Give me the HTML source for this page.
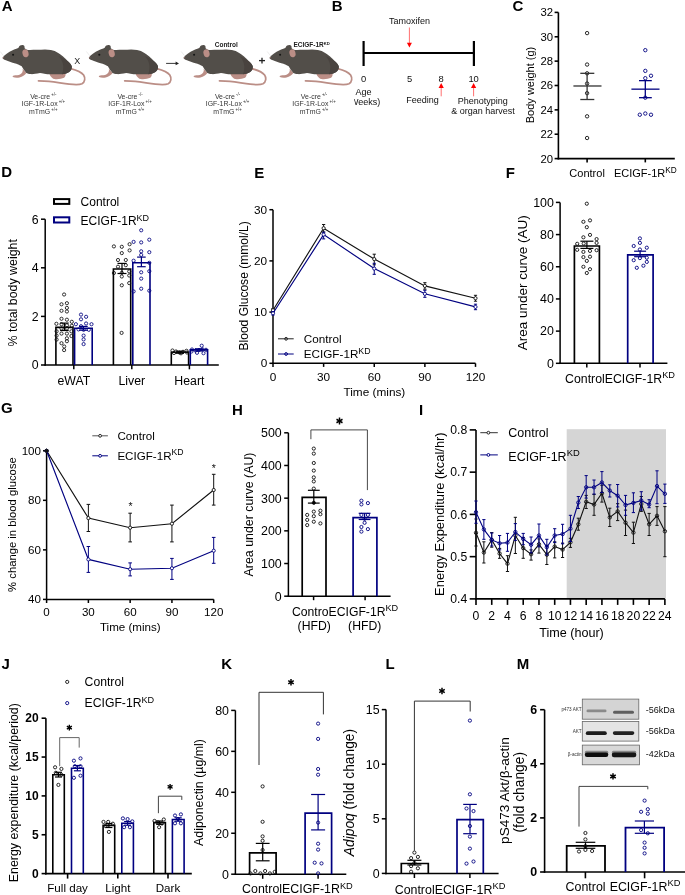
<!DOCTYPE html>
<html><head><meta charset="utf-8"><title>Figure</title>
<style>
html,body{margin:0;padding:0;background:#fff;}
body{width:685px;height:895px;overflow:hidden;}
svg{display:block;font-family:"Liberation Sans", sans-serif;will-change:transform;}
</style></head><body>
<svg width="685" height="895" viewBox="0 0 685 895">

<text x="1.75" y="10.90" font-size="15" font-weight="bold">A</text>
<g transform="translate(0,0)">
<path d="M 70.6 68.6 C 76 70, 81 71.5, 83.6 75 C 85.5 78, 85 82, 82 83.8 C 79.5 85, 75 84.9, 69.2 84.2 C 62 83.3, 56 82.2, 49 81.4 C 45 81, 42 80.9, 38.5 80.8" fill="none" stroke="#bb8e86" stroke-width="1.75" stroke-linecap="round"/>
<path d="M 49.3 73.6 C 49.9 75.4, 50.5 76.5, 51.5 77.3 C 52.5 78.6, 54 79.3, 56 79.2 C 59 79.3, 62 78.8, 64.1 77.8 C 65.5 76.8, 65.8 75, 65.5 72.6 Z" fill="#bb8e86" stroke="none" stroke-width="1" />
<path d="M 22.6 68.8 C 23.4 71.3, 22 73.5, 20 74.6 C 18.5 75.3, 16 75.4, 14 75.4 C 12.8 75.5, 12.3 76.3, 12.9 76.9 C 14.5 77.7, 17 77.8, 19.5 77.4 C 22.5 76.7, 24.8 75, 26.4 72.9 Z" fill="#bb8e86" stroke="none" stroke-width="1" />
<path d="M 2.9 57.3 C 4.5 55, 8 52, 13.1 49.9 C 15.5 49, 17.5 48.4, 18.7 47.5 C 19.2 45.8, 21 45, 22.5 45.1 C 24 45.2, 24.8 46, 24.6 48.2 C 26 49.6, 28 50.2, 30 50.1 C 34 49.9, 40 49.8, 45 49.6 C 47 49.6, 49 49.8, 50.9 50.1 C 53.5 50.6, 56 51.6, 58.2 53 C 61 54.8, 63 56.5, 64.1 57.4 C 66.5 59.6, 68.2 61.3, 69.2 62.5 C 70.5 64, 71.6 65.3, 71.8 66.6 C 72 68, 71.6 69.3, 70.8 70.4 C 70 71.3, 69.5 71.8, 69.2 72 C 67 73.5, 64 74.2, 61.9 74.3 L 50.9 74.3 C 46 74.3, 42 73, 40 72.9 C 36 73.5, 33 74.3, 31 74.1 C 29 73.8, 27 73.3, 26.3 72.9 C 24.5 71, 23 68.5, 21.7 66.3 C 19.5 64.8, 18 64.2, 16.4 63.7 C 13.5 62.9, 11.5 62.2, 9.9 61.7 C 7 60.8, 4.5 60, 3.3 59.1 C 2.7 58.6, 2.6 57.9, 2.9 57.3 Z" fill="#524e49" stroke="none" stroke-width="1" />
<path d="M 58.5 56.2 C 63 60, 64.8 67, 62 74.3 C 65 74, 67.5 73.2, 69.2 72 C 70.5 71, 71.8 69.5, 71.8 66.6 C 71.5 65, 70 63.5, 69.2 62.5 C 66 59.4, 62 57.3, 58.5 56.2 Z" fill="#49433f" stroke="none" stroke-width="1" />
<ellipse cx="25.5" cy="53.3" rx="3.0" ry="4.0" transform="rotate(-15 25.5 53.3)" fill="#bb8e86"/>
<circle cx="3.4" cy="57.8" r="0.8" fill="#8a6a66"/>
<circle cx="13.10" cy="54.80" r="1.05" fill="#151515" stroke="none" stroke-width="0"/>
<line x1="0.20" y1="51.50" x2="3.60" y2="55.80" stroke="#d8d8d8" stroke-width="0.5" />
</g>
<g transform="translate(86.2,0)">
<path d="M 70.6 68.6 C 76 70, 81 71.5, 83.6 75 C 85.5 78, 85 82, 82 83.8 C 79.5 85, 75 84.9, 69.2 84.2 C 62 83.3, 56 82.2, 49 81.4 C 45 81, 42 80.9, 38.5 80.8" fill="none" stroke="#bb8e86" stroke-width="1.75" stroke-linecap="round"/>
<path d="M 49.3 73.6 C 49.9 75.4, 50.5 76.5, 51.5 77.3 C 52.5 78.6, 54 79.3, 56 79.2 C 59 79.3, 62 78.8, 64.1 77.8 C 65.5 76.8, 65.8 75, 65.5 72.6 Z" fill="#bb8e86" stroke="none" stroke-width="1" />
<path d="M 22.6 68.8 C 23.4 71.3, 22 73.5, 20 74.6 C 18.5 75.3, 16 75.4, 14 75.4 C 12.8 75.5, 12.3 76.3, 12.9 76.9 C 14.5 77.7, 17 77.8, 19.5 77.4 C 22.5 76.7, 24.8 75, 26.4 72.9 Z" fill="#bb8e86" stroke="none" stroke-width="1" />
<path d="M 2.9 57.3 C 4.5 55, 8 52, 13.1 49.9 C 15.5 49, 17.5 48.4, 18.7 47.5 C 19.2 45.8, 21 45, 22.5 45.1 C 24 45.2, 24.8 46, 24.6 48.2 C 26 49.6, 28 50.2, 30 50.1 C 34 49.9, 40 49.8, 45 49.6 C 47 49.6, 49 49.8, 50.9 50.1 C 53.5 50.6, 56 51.6, 58.2 53 C 61 54.8, 63 56.5, 64.1 57.4 C 66.5 59.6, 68.2 61.3, 69.2 62.5 C 70.5 64, 71.6 65.3, 71.8 66.6 C 72 68, 71.6 69.3, 70.8 70.4 C 70 71.3, 69.5 71.8, 69.2 72 C 67 73.5, 64 74.2, 61.9 74.3 L 50.9 74.3 C 46 74.3, 42 73, 40 72.9 C 36 73.5, 33 74.3, 31 74.1 C 29 73.8, 27 73.3, 26.3 72.9 C 24.5 71, 23 68.5, 21.7 66.3 C 19.5 64.8, 18 64.2, 16.4 63.7 C 13.5 62.9, 11.5 62.2, 9.9 61.7 C 7 60.8, 4.5 60, 3.3 59.1 C 2.7 58.6, 2.6 57.9, 2.9 57.3 Z" fill="#524e49" stroke="none" stroke-width="1" />
<path d="M 58.5 56.2 C 63 60, 64.8 67, 62 74.3 C 65 74, 67.5 73.2, 69.2 72 C 70.5 71, 71.8 69.5, 71.8 66.6 C 71.5 65, 70 63.5, 69.2 62.5 C 66 59.4, 62 57.3, 58.5 56.2 Z" fill="#49433f" stroke="none" stroke-width="1" />
<ellipse cx="25.5" cy="53.3" rx="3.0" ry="4.0" transform="rotate(-15 25.5 53.3)" fill="#bb8e86"/>
<circle cx="3.4" cy="57.8" r="0.8" fill="#8a6a66"/>
<circle cx="13.10" cy="54.80" r="1.05" fill="#151515" stroke="none" stroke-width="0"/>
<line x1="0.20" y1="51.50" x2="3.60" y2="55.80" stroke="#d8d8d8" stroke-width="0.5" />
</g>
<g transform="translate(181,0)">
<path d="M 70.6 68.6 C 76 70, 81 71.5, 83.6 75 C 85.5 78, 85 82, 82 83.8 C 79.5 85, 75 84.9, 69.2 84.2 C 62 83.3, 56 82.2, 49 81.4 C 45 81, 42 80.9, 38.5 80.8" fill="none" stroke="#bb8e86" stroke-width="1.75" stroke-linecap="round"/>
<path d="M 49.3 73.6 C 49.9 75.4, 50.5 76.5, 51.5 77.3 C 52.5 78.6, 54 79.3, 56 79.2 C 59 79.3, 62 78.8, 64.1 77.8 C 65.5 76.8, 65.8 75, 65.5 72.6 Z" fill="#bb8e86" stroke="none" stroke-width="1" />
<path d="M 22.6 68.8 C 23.4 71.3, 22 73.5, 20 74.6 C 18.5 75.3, 16 75.4, 14 75.4 C 12.8 75.5, 12.3 76.3, 12.9 76.9 C 14.5 77.7, 17 77.8, 19.5 77.4 C 22.5 76.7, 24.8 75, 26.4 72.9 Z" fill="#bb8e86" stroke="none" stroke-width="1" />
<path d="M 2.9 57.3 C 4.5 55, 8 52, 13.1 49.9 C 15.5 49, 17.5 48.4, 18.7 47.5 C 19.2 45.8, 21 45, 22.5 45.1 C 24 45.2, 24.8 46, 24.6 48.2 C 26 49.6, 28 50.2, 30 50.1 C 34 49.9, 40 49.8, 45 49.6 C 47 49.6, 49 49.8, 50.9 50.1 C 53.5 50.6, 56 51.6, 58.2 53 C 61 54.8, 63 56.5, 64.1 57.4 C 66.5 59.6, 68.2 61.3, 69.2 62.5 C 70.5 64, 71.6 65.3, 71.8 66.6 C 72 68, 71.6 69.3, 70.8 70.4 C 70 71.3, 69.5 71.8, 69.2 72 C 67 73.5, 64 74.2, 61.9 74.3 L 50.9 74.3 C 46 74.3, 42 73, 40 72.9 C 36 73.5, 33 74.3, 31 74.1 C 29 73.8, 27 73.3, 26.3 72.9 C 24.5 71, 23 68.5, 21.7 66.3 C 19.5 64.8, 18 64.2, 16.4 63.7 C 13.5 62.9, 11.5 62.2, 9.9 61.7 C 7 60.8, 4.5 60, 3.3 59.1 C 2.7 58.6, 2.6 57.9, 2.9 57.3 Z" fill="#524e49" stroke="none" stroke-width="1" />
<path d="M 58.5 56.2 C 63 60, 64.8 67, 62 74.3 C 65 74, 67.5 73.2, 69.2 72 C 70.5 71, 71.8 69.5, 71.8 66.6 C 71.5 65, 70 63.5, 69.2 62.5 C 66 59.4, 62 57.3, 58.5 56.2 Z" fill="#49433f" stroke="none" stroke-width="1" />
<ellipse cx="25.5" cy="53.3" rx="3.0" ry="4.0" transform="rotate(-15 25.5 53.3)" fill="#bb8e86"/>
<circle cx="3.4" cy="57.8" r="0.8" fill="#8a6a66"/>
<circle cx="13.10" cy="54.80" r="1.05" fill="#151515" stroke="none" stroke-width="0"/>
<line x1="0.20" y1="51.50" x2="3.60" y2="55.80" stroke="#d8d8d8" stroke-width="0.5" />
</g>
<g transform="translate(267,0)">
<path d="M 70.6 68.6 C 76 70, 81 71.5, 83.6 75 C 85.5 78, 85 82, 82 83.8 C 79.5 85, 75 84.9, 69.2 84.2 C 62 83.3, 56 82.2, 49 81.4 C 45 81, 42 80.9, 38.5 80.8" fill="none" stroke="#bb8e86" stroke-width="1.75" stroke-linecap="round"/>
<path d="M 49.3 73.6 C 49.9 75.4, 50.5 76.5, 51.5 77.3 C 52.5 78.6, 54 79.3, 56 79.2 C 59 79.3, 62 78.8, 64.1 77.8 C 65.5 76.8, 65.8 75, 65.5 72.6 Z" fill="#bb8e86" stroke="none" stroke-width="1" />
<path d="M 22.6 68.8 C 23.4 71.3, 22 73.5, 20 74.6 C 18.5 75.3, 16 75.4, 14 75.4 C 12.8 75.5, 12.3 76.3, 12.9 76.9 C 14.5 77.7, 17 77.8, 19.5 77.4 C 22.5 76.7, 24.8 75, 26.4 72.9 Z" fill="#bb8e86" stroke="none" stroke-width="1" />
<path d="M 2.9 57.3 C 4.5 55, 8 52, 13.1 49.9 C 15.5 49, 17.5 48.4, 18.7 47.5 C 19.2 45.8, 21 45, 22.5 45.1 C 24 45.2, 24.8 46, 24.6 48.2 C 26 49.6, 28 50.2, 30 50.1 C 34 49.9, 40 49.8, 45 49.6 C 47 49.6, 49 49.8, 50.9 50.1 C 53.5 50.6, 56 51.6, 58.2 53 C 61 54.8, 63 56.5, 64.1 57.4 C 66.5 59.6, 68.2 61.3, 69.2 62.5 C 70.5 64, 71.6 65.3, 71.8 66.6 C 72 68, 71.6 69.3, 70.8 70.4 C 70 71.3, 69.5 71.8, 69.2 72 C 67 73.5, 64 74.2, 61.9 74.3 L 50.9 74.3 C 46 74.3, 42 73, 40 72.9 C 36 73.5, 33 74.3, 31 74.1 C 29 73.8, 27 73.3, 26.3 72.9 C 24.5 71, 23 68.5, 21.7 66.3 C 19.5 64.8, 18 64.2, 16.4 63.7 C 13.5 62.9, 11.5 62.2, 9.9 61.7 C 7 60.8, 4.5 60, 3.3 59.1 C 2.7 58.6, 2.6 57.9, 2.9 57.3 Z" fill="#524e49" stroke="none" stroke-width="1" />
<path d="M 58.5 56.2 C 63 60, 64.8 67, 62 74.3 C 65 74, 67.5 73.2, 69.2 72 C 70.5 71, 71.8 69.5, 71.8 66.6 C 71.5 65, 70 63.5, 69.2 62.5 C 66 59.4, 62 57.3, 58.5 56.2 Z" fill="#49433f" stroke="none" stroke-width="1" />
<ellipse cx="25.5" cy="53.3" rx="3.0" ry="4.0" transform="rotate(-15 25.5 53.3)" fill="#bb8e86"/>
<circle cx="3.4" cy="57.8" r="0.8" fill="#8a6a66"/>
<circle cx="13.10" cy="54.80" r="1.05" fill="#151515" stroke="none" stroke-width="0"/>
<line x1="0.20" y1="51.50" x2="3.60" y2="55.80" stroke="#d8d8d8" stroke-width="0.5" />
</g>
<text x="77.20" y="64.25" font-size="9.0" text-anchor="middle" fill="#222" >X</text>
<line x1="166.10" y1="63.40" x2="176.50" y2="63.40" stroke="#222" stroke-width="0.9" />
<path d="M 179 63.4 L 175.6 61.6 L 175.6 65.2 Z" fill="#222" stroke="none" stroke-width="1" />
<line x1="259.00" y1="60.60" x2="265.00" y2="60.60" stroke="#222" stroke-width="1.3" />
<line x1="262.00" y1="57.70" x2="262.00" y2="63.50" stroke="#222" stroke-width="1.3" />
<text x="226.30" y="47.07" font-size="6.5" text-anchor="middle" font-weight="bold" fill="#222" >Control</text>
<text x="311.6" y="47.1" font-size="6.5" text-anchor="middle" font-weight="bold" fill="#222">ECIGF-1R<tspan font-size="4.2" dy="-2.5">KD</tspan></text>
<g transform="translate(43.3,0) scale(0.9,1)">
<text x="0" y="98.7" font-size="7.7" text-anchor="middle" fill="#333">Ve-cre<tspan font-size="4.8" dy="-2.8"> +/-</tspan></text>
<text x="0" y="106.2" font-size="7.7" text-anchor="middle" fill="#333">IGF-1R-Lox<tspan font-size="4.8" dy="-2.8"> +/+</tspan></text>
<text x="0" y="113.9" font-size="7.7" text-anchor="middle" fill="#333">mTmG<tspan font-size="4.8" dy="-2.8"> +/+</tspan></text>
</g>
<g transform="translate(130,0) scale(0.9,1)">
<text x="0" y="98.7" font-size="7.7" text-anchor="middle" fill="#333">Ve-cre<tspan font-size="4.8" dy="-2.8"> -/-</tspan></text>
<text x="0" y="106.2" font-size="7.7" text-anchor="middle" fill="#333">IGF-1R-Lox<tspan font-size="4.8" dy="-2.8"> +/+</tspan></text>
<text x="0" y="113.9" font-size="7.7" text-anchor="middle" fill="#333">mTmG<tspan font-size="4.8" dy="-2.8"> +/+</tspan></text>
</g>
<g transform="translate(227.5,0) scale(0.9,1)">
<text x="0" y="98.7" font-size="7.7" text-anchor="middle" fill="#333">Ve-cre<tspan font-size="4.8" dy="-2.8"> -/-</tspan></text>
<text x="0" y="106.2" font-size="7.7" text-anchor="middle" fill="#333">IGF-1R-Lox<tspan font-size="4.8" dy="-2.8"> +/+</tspan></text>
<text x="0" y="113.9" font-size="7.7" text-anchor="middle" fill="#333">mTmG<tspan font-size="4.8" dy="-2.8"> +/+</tspan></text>
</g>
<g transform="translate(314,0) scale(0.9,1)">
<text x="0" y="98.7" font-size="7.7" text-anchor="middle" fill="#333">Ve-cre<tspan font-size="4.8" dy="-2.8"> +/-</tspan></text>
<text x="0" y="106.2" font-size="7.7" text-anchor="middle" fill="#333">IGF-1R-Lox<tspan font-size="4.8" dy="-2.8"> +/+</tspan></text>
<text x="0" y="113.9" font-size="7.7" text-anchor="middle" fill="#333">mTmG<tspan font-size="4.8" dy="-2.8"> +/+</tspan></text>
</g>
<text x="331.80" y="10.90" font-size="15" font-weight="bold">B</text>
<line x1="363.60" y1="41.00" x2="363.60" y2="66.00" stroke="#000" stroke-width="2.2" />
<line x1="473.90" y1="41.00" x2="473.90" y2="66.00" stroke="#000" stroke-width="2.2" />
<line x1="363.60" y1="53.00" x2="473.90" y2="53.00" stroke="#000" stroke-width="2.2" />
<text x="363.60" y="81.89" font-size="9.4" text-anchor="middle" fill="#111" >0</text>
<text x="409.50" y="81.89" font-size="9.4" text-anchor="middle" fill="#111" >5</text>
<text x="441.20" y="81.89" font-size="9.4" text-anchor="middle" fill="#111" >8</text>
<text x="473.60" y="81.89" font-size="9.4" text-anchor="middle" fill="#111" >10</text>
<text x="409.60" y="24.35" font-size="9" text-anchor="middle" fill="#111" >Tamoxifen</text>
<line x1="409.40" y1="27.50" x2="409.40" y2="43.00" stroke="#f22" stroke-width="0.65" />
<path d="M 409.4 47.6 L 406.9 42.7 L 411.9 42.7 Z" fill="#f00" stroke="none" stroke-width="1" />
<line x1="441.20" y1="96.30" x2="441.20" y2="87.50" stroke="#f22" stroke-width="0.65" />
<path d="M 441.2 82.9 L 438.59999999999997 87.9 L 443.8 87.9 Z" fill="#f00" stroke="none" stroke-width="1" />
<line x1="473.60" y1="96.30" x2="473.60" y2="87.50" stroke="#f22" stroke-width="0.65" />
<path d="M 473.6 82.9 L 471.0 87.9 L 476.20000000000005 87.9 Z" fill="#f00" stroke="none" stroke-width="1" />
<text x="363.60" y="95.15" font-size="9" text-anchor="middle" fill="#111" >Age</text>
<clipPath id="wk"><rect x="354.2" y="90" width="30" height="20"/></clipPath>
<text x="363.60" y="105.35" font-size="9" text-anchor="middle" fill="#111" clip-path="url(#wk)">(Weeks)</text>
<text x="422.50" y="103.35" font-size="9" text-anchor="middle" fill="#111" >Feeding</text>
<text x="482.80" y="103.85" font-size="9" text-anchor="middle" fill="#111" >Phenotyping</text>
<text x="483.00" y="114.35" font-size="9" text-anchor="middle" fill="#111" >&amp; organ harvest</text>
<text x="512.60" y="10.90" font-size="15" font-weight="bold">C</text>
<line x1="558.40" y1="12.40" x2="558.40" y2="159.40" stroke="#000" stroke-width="1.6" />
<line x1="554.60" y1="158.60" x2="558.40" y2="158.60" stroke="#000" stroke-width="1.6" />
<text x="553.00" y="162.56" font-size="11.3" text-anchor="end" fill="#000" >20</text>
<line x1="554.60" y1="134.23" x2="558.40" y2="134.23" stroke="#000" stroke-width="1.6" />
<text x="553.00" y="138.19" font-size="11.3" text-anchor="end" fill="#000" >22</text>
<line x1="554.60" y1="109.87" x2="558.40" y2="109.87" stroke="#000" stroke-width="1.6" />
<text x="553.00" y="113.82" font-size="11.3" text-anchor="end" fill="#000" >24</text>
<line x1="554.60" y1="85.50" x2="558.40" y2="85.50" stroke="#000" stroke-width="1.6" />
<text x="553.00" y="89.45" font-size="11.3" text-anchor="end" fill="#000" >26</text>
<line x1="554.60" y1="61.13" x2="558.40" y2="61.13" stroke="#000" stroke-width="1.6" />
<text x="553.00" y="65.09" font-size="11.3" text-anchor="end" fill="#000" >28</text>
<line x1="554.60" y1="36.77" x2="558.40" y2="36.77" stroke="#000" stroke-width="1.6" />
<text x="553.00" y="40.72" font-size="11.3" text-anchor="end" fill="#000" >30</text>
<line x1="554.60" y1="12.40" x2="558.40" y2="12.40" stroke="#000" stroke-width="1.6" />
<text x="553.00" y="16.36" font-size="11.3" text-anchor="end" fill="#000" >32</text>
<line x1="557.60" y1="158.60" x2="674.80" y2="158.60" stroke="#000" stroke-width="1.6" />
<line x1="587.10" y1="158.60" x2="587.10" y2="162.40" stroke="#000" stroke-width="1.6" />
<line x1="645.30" y1="158.60" x2="645.30" y2="162.40" stroke="#000" stroke-width="1.6" />
<text transform="translate(534.45,85.00) rotate(-90)" font-size="11.0" text-anchor="middle" fill="#000" >Body weight (g)</text>
<text x="587.10" y="177.00" font-size="11.0" text-anchor="middle" fill="#000" >Control</text>
<text x="645.3" y="177.0" font-size="11" text-anchor="middle">ECIGF-1R<tspan font-size="8.25" dy="-4.18">KD</tspan></text>
<circle cx="587.10" cy="33.11" r="1.7" fill="none" stroke="#111" stroke-width="0.9"/>
<circle cx="587.10" cy="64.54" r="1.7" fill="none" stroke="#111" stroke-width="0.9"/>
<circle cx="587.10" cy="73.32" r="1.7" fill="none" stroke="#111" stroke-width="0.9"/>
<circle cx="587.10" cy="83.55" r="1.7" fill="none" stroke="#111" stroke-width="0.9"/>
<circle cx="587.10" cy="93.18" r="1.7" fill="none" stroke="#111" stroke-width="0.9"/>
<circle cx="587.10" cy="116.32" r="1.7" fill="none" stroke="#111" stroke-width="0.9"/>
<circle cx="587.10" cy="138.01" r="1.7" fill="none" stroke="#111" stroke-width="0.9"/>
<line x1="573.40" y1="85.99" x2="601.50" y2="85.99" stroke="#333" stroke-width="1.3" />
<line x1="587.10" y1="73.32" x2="587.10" y2="99.51" stroke="#333" stroke-width="1.3" />
<line x1="580.30" y1="73.32" x2="594.30" y2="73.32" stroke="#333" stroke-width="1.3" />
<line x1="580.30" y1="99.51" x2="594.30" y2="99.51" stroke="#333" stroke-width="1.3" />
<circle cx="645.30" cy="50.17" r="1.7" fill="none" stroke="#000080" stroke-width="0.9"/>
<circle cx="645.30" cy="70.88" r="1.7" fill="none" stroke="#000080" stroke-width="0.9"/>
<circle cx="651.00" cy="75.75" r="1.7" fill="none" stroke="#000080" stroke-width="0.9"/>
<circle cx="645.30" cy="78.19" r="1.7" fill="none" stroke="#000080" stroke-width="0.9"/>
<circle cx="645.30" cy="97.68" r="1.7" fill="none" stroke="#000080" stroke-width="0.9"/>
<circle cx="639.80" cy="114.74" r="1.7" fill="none" stroke="#000080" stroke-width="0.9"/>
<circle cx="645.30" cy="113.52" r="1.7" fill="none" stroke="#000080" stroke-width="0.9"/>
<circle cx="651.00" cy="114.74" r="1.7" fill="none" stroke="#000080" stroke-width="0.9"/>
<line x1="631.40" y1="89.16" x2="659.50" y2="89.16" stroke="#000080" stroke-width="1.3" />
<line x1="645.30" y1="80.63" x2="645.30" y2="97.68" stroke="#000080" stroke-width="1.3" />
<line x1="639.00" y1="80.63" x2="651.80" y2="80.63" stroke="#000080" stroke-width="1.3" />
<line x1="639.00" y1="97.68" x2="651.80" y2="97.68" stroke="#000080" stroke-width="1.3" />
<text x="1.20" y="177.30" font-size="15" font-weight="bold">D</text>
<line x1="45.20" y1="219.20" x2="45.20" y2="365.75" stroke="#000" stroke-width="1.5" />
<line x1="41.00" y1="365.00" x2="45.20" y2="365.00" stroke="#000" stroke-width="1.5" />
<text x="38.50" y="369.31" font-size="12.3" text-anchor="end" fill="#000" >0</text>
<line x1="41.00" y1="316.40" x2="45.20" y2="316.40" stroke="#000" stroke-width="1.5" />
<text x="38.50" y="320.70" font-size="12.3" text-anchor="end" fill="#000" >2</text>
<line x1="41.00" y1="267.80" x2="45.20" y2="267.80" stroke="#000" stroke-width="1.5" />
<text x="38.50" y="272.11" font-size="12.3" text-anchor="end" fill="#000" >4</text>
<line x1="41.00" y1="219.20" x2="45.20" y2="219.20" stroke="#000" stroke-width="1.5" />
<text x="38.50" y="223.50" font-size="12.3" text-anchor="end" fill="#000" >6</text>
<line x1="44.45" y1="365.00" x2="218.80" y2="365.00" stroke="#000" stroke-width="1.5" />
<line x1="73.80" y1="365.00" x2="73.80" y2="369.30" stroke="#000" stroke-width="1.5" />
<line x1="131.80" y1="365.00" x2="131.80" y2="369.30" stroke="#000" stroke-width="1.5" />
<line x1="189.40" y1="365.00" x2="189.40" y2="369.30" stroke="#000" stroke-width="1.5" />
<text transform="translate(17.40,292.80) rotate(-90)" font-size="12.4" text-anchor="middle" fill="#000" >% total body weight</text>
<text x="73.80" y="385.31" font-size="12.3" text-anchor="middle" fill="#000" >eWAT</text>
<text x="131.80" y="385.31" font-size="12.3" text-anchor="middle" fill="#000" >Liver</text>
<text x="189.40" y="385.31" font-size="12.3" text-anchor="middle" fill="#000" >Heart</text>
<rect x="54.00" y="199.10" width="15.30" height="4.80" fill="none" stroke="#000" stroke-width="2.0" />
<rect x="54.00" y="217.30" width="15.30" height="5.20" fill="none" stroke="#000080" stroke-width="2.0" />
<text x="80.60" y="205.80" font-size="12.0" text-anchor="start" fill="#000" >Control</text>
<text x="80.6" y="225.40" font-size="12">ECIGF-1R<tspan font-size="9.00" dy="-4.56">KD</tspan></text>
<path d="M 55.9 365 L 55.9 327.4 L 73.0 327.4 L 73.0 365" fill="none" stroke="#000" stroke-width="1.6" />
<path d="M 74.6 365 L 74.6 328.3 L 92.2 328.3 L 92.2 365" fill="none" stroke="#000080" stroke-width="1.6" />
<path d="M 113.4 365 L 113.4 269.0 L 130.7 269.0 L 130.7 365" fill="none" stroke="#000" stroke-width="1.6" />
<path d="M 132.8 365 L 132.8 262.8 L 150.0 262.8 L 150.0 365" fill="none" stroke="#000080" stroke-width="1.6" />
<path d="M 171.3 365 L 171.3 352.3 L 188.6 352.3 L 188.6 365" fill="none" stroke="#000" stroke-width="1.6" />
<path d="M 190.3 365 L 190.3 349.9 L 207.6 349.9 L 207.6 365" fill="none" stroke="#000080" stroke-width="1.6" />
<circle cx="64.10" cy="294.50" r="1.6" fill="none" stroke="#111" stroke-width="0.85"/>
<circle cx="61.50" cy="304.30" r="1.6" fill="none" stroke="#111" stroke-width="0.85"/>
<circle cx="66.90" cy="303.20" r="1.6" fill="none" stroke="#111" stroke-width="0.85"/>
<circle cx="66.90" cy="307.90" r="1.6" fill="none" stroke="#111" stroke-width="0.85"/>
<circle cx="61.50" cy="310.80" r="1.6" fill="none" stroke="#111" stroke-width="0.85"/>
<circle cx="66.90" cy="311.50" r="1.6" fill="none" stroke="#111" stroke-width="0.85"/>
<circle cx="61.50" cy="318.80" r="1.6" fill="none" stroke="#111" stroke-width="0.85"/>
<circle cx="66.90" cy="319.70" r="1.6" fill="none" stroke="#111" stroke-width="0.85"/>
<circle cx="71.80" cy="321.80" r="1.6" fill="none" stroke="#111" stroke-width="0.85"/>
<circle cx="56.40" cy="323.80" r="1.6" fill="none" stroke="#111" stroke-width="0.85"/>
<circle cx="61.50" cy="324.20" r="1.6" fill="none" stroke="#111" stroke-width="0.85"/>
<circle cx="66.90" cy="325.30" r="1.6" fill="none" stroke="#111" stroke-width="0.85"/>
<circle cx="71.80" cy="325.80" r="1.6" fill="none" stroke="#111" stroke-width="0.85"/>
<circle cx="61.50" cy="328.50" r="1.6" fill="none" stroke="#111" stroke-width="0.85"/>
<circle cx="66.90" cy="328.50" r="1.6" fill="none" stroke="#111" stroke-width="0.85"/>
<circle cx="56.60" cy="331.30" r="1.6" fill="none" stroke="#111" stroke-width="0.85"/>
<circle cx="71.40" cy="331.30" r="1.6" fill="none" stroke="#111" stroke-width="0.85"/>
<circle cx="61.50" cy="333.60" r="1.6" fill="none" stroke="#111" stroke-width="0.85"/>
<circle cx="66.90" cy="333.60" r="1.6" fill="none" stroke="#111" stroke-width="0.85"/>
<circle cx="56.60" cy="335.60" r="1.6" fill="none" stroke="#111" stroke-width="0.85"/>
<circle cx="71.40" cy="336.00" r="1.6" fill="none" stroke="#111" stroke-width="0.85"/>
<circle cx="66.90" cy="338.30" r="1.6" fill="none" stroke="#111" stroke-width="0.85"/>
<circle cx="56.60" cy="339.60" r="1.6" fill="none" stroke="#111" stroke-width="0.85"/>
<circle cx="66.90" cy="341.20" r="1.6" fill="none" stroke="#111" stroke-width="0.85"/>
<circle cx="61.50" cy="343.20" r="1.6" fill="none" stroke="#111" stroke-width="0.85"/>
<circle cx="64.20" cy="346.50" r="1.6" fill="none" stroke="#111" stroke-width="0.85"/>
<circle cx="64.10" cy="350.10" r="1.6" fill="none" stroke="#111" stroke-width="0.85"/>
<circle cx="113.90" cy="246.40" r="1.6" fill="none" stroke="#111" stroke-width="0.85"/>
<circle cx="121.80" cy="246.80" r="1.6" fill="none" stroke="#111" stroke-width="0.85"/>
<circle cx="129.60" cy="244.20" r="1.6" fill="none" stroke="#111" stroke-width="0.85"/>
<circle cx="121.80" cy="253.10" r="1.6" fill="none" stroke="#111" stroke-width="0.85"/>
<circle cx="129.60" cy="250.40" r="1.6" fill="none" stroke="#111" stroke-width="0.85"/>
<circle cx="118.00" cy="260.00" r="1.6" fill="none" stroke="#111" stroke-width="0.85"/>
<circle cx="125.80" cy="260.00" r="1.6" fill="none" stroke="#111" stroke-width="0.85"/>
<circle cx="118.00" cy="266.70" r="1.6" fill="none" stroke="#111" stroke-width="0.85"/>
<circle cx="125.80" cy="265.20" r="1.6" fill="none" stroke="#111" stroke-width="0.85"/>
<circle cx="113.90" cy="273.00" r="1.6" fill="none" stroke="#111" stroke-width="0.85"/>
<circle cx="121.80" cy="272.80" r="1.6" fill="none" stroke="#111" stroke-width="0.85"/>
<circle cx="129.20" cy="271.40" r="1.6" fill="none" stroke="#111" stroke-width="0.85"/>
<circle cx="121.80" cy="276.50" r="1.6" fill="none" stroke="#111" stroke-width="0.85"/>
<circle cx="129.20" cy="275.50" r="1.6" fill="none" stroke="#111" stroke-width="0.85"/>
<circle cx="129.20" cy="283.10" r="1.6" fill="none" stroke="#111" stroke-width="0.85"/>
<circle cx="121.80" cy="285.30" r="1.6" fill="none" stroke="#111" stroke-width="0.85"/>
<circle cx="121.60" cy="332.90" r="1.6" fill="none" stroke="#111" stroke-width="0.85"/>
<circle cx="172.50" cy="350.50" r="1.6" fill="none" stroke="#111" stroke-width="0.85"/>
<circle cx="176.00" cy="351.50" r="1.6" fill="none" stroke="#111" stroke-width="0.85"/>
<circle cx="179.50" cy="352.50" r="1.6" fill="none" stroke="#111" stroke-width="0.85"/>
<circle cx="183.00" cy="351.80" r="1.6" fill="none" stroke="#111" stroke-width="0.85"/>
<circle cx="186.50" cy="350.80" r="1.6" fill="none" stroke="#111" stroke-width="0.85"/>
<circle cx="174.00" cy="353.00" r="1.6" fill="none" stroke="#111" stroke-width="0.85"/>
<circle cx="181.00" cy="353.30" r="1.6" fill="none" stroke="#111" stroke-width="0.85"/>
<circle cx="187.00" cy="352.50" r="1.6" fill="none" stroke="#111" stroke-width="0.85"/>
<circle cx="81.00" cy="314.60" r="1.6" fill="none" stroke="#000080" stroke-width="0.85"/>
<circle cx="86.10" cy="316.80" r="1.6" fill="none" stroke="#000080" stroke-width="0.85"/>
<circle cx="81.00" cy="319.30" r="1.6" fill="none" stroke="#000080" stroke-width="0.85"/>
<circle cx="75.90" cy="324.20" r="1.6" fill="none" stroke="#000080" stroke-width="0.85"/>
<circle cx="86.10" cy="323.50" r="1.6" fill="none" stroke="#000080" stroke-width="0.85"/>
<circle cx="91.50" cy="324.20" r="1.6" fill="none" stroke="#000080" stroke-width="0.85"/>
<circle cx="81.00" cy="326.20" r="1.6" fill="none" stroke="#000080" stroke-width="0.85"/>
<circle cx="78.50" cy="329.40" r="1.6" fill="none" stroke="#000080" stroke-width="0.85"/>
<circle cx="83.60" cy="329.80" r="1.6" fill="none" stroke="#000080" stroke-width="0.85"/>
<circle cx="88.80" cy="329.80" r="1.6" fill="none" stroke="#000080" stroke-width="0.85"/>
<circle cx="83.60" cy="335.60" r="1.6" fill="none" stroke="#000080" stroke-width="0.85"/>
<circle cx="83.60" cy="339.40" r="1.6" fill="none" stroke="#000080" stroke-width="0.85"/>
<circle cx="83.60" cy="344.10" r="1.6" fill="none" stroke="#000080" stroke-width="0.85"/>
<circle cx="141.20" cy="230.30" r="1.6" fill="none" stroke="#000080" stroke-width="0.85"/>
<circle cx="133.60" cy="241.90" r="1.6" fill="none" stroke="#000080" stroke-width="0.85"/>
<circle cx="141.20" cy="242.40" r="1.6" fill="none" stroke="#000080" stroke-width="0.85"/>
<circle cx="149.30" cy="239.70" r="1.6" fill="none" stroke="#000080" stroke-width="0.85"/>
<circle cx="141.20" cy="251.30" r="1.6" fill="none" stroke="#000080" stroke-width="0.85"/>
<circle cx="149.30" cy="252.20" r="1.6" fill="none" stroke="#000080" stroke-width="0.85"/>
<circle cx="141.20" cy="254.90" r="1.6" fill="none" stroke="#000080" stroke-width="0.85"/>
<circle cx="133.60" cy="260.70" r="1.6" fill="none" stroke="#000080" stroke-width="0.85"/>
<circle cx="149.30" cy="262.80" r="1.6" fill="none" stroke="#000080" stroke-width="0.85"/>
<circle cx="141.20" cy="272.30" r="1.6" fill="none" stroke="#000080" stroke-width="0.85"/>
<circle cx="149.30" cy="271.20" r="1.6" fill="none" stroke="#000080" stroke-width="0.85"/>
<circle cx="141.20" cy="278.60" r="1.6" fill="none" stroke="#000080" stroke-width="0.85"/>
<circle cx="133.60" cy="291.40" r="1.6" fill="none" stroke="#000080" stroke-width="0.85"/>
<circle cx="141.20" cy="288.70" r="1.6" fill="none" stroke="#000080" stroke-width="0.85"/>
<circle cx="149.30" cy="290.70" r="1.6" fill="none" stroke="#000080" stroke-width="0.85"/>
<circle cx="201.70" cy="345.70" r="1.6" fill="none" stroke="#000080" stroke-width="0.85"/>
<circle cx="192.00" cy="349.50" r="1.6" fill="none" stroke="#000080" stroke-width="0.85"/>
<circle cx="195.50" cy="350.50" r="1.6" fill="none" stroke="#000080" stroke-width="0.85"/>
<circle cx="199.00" cy="350.00" r="1.6" fill="none" stroke="#000080" stroke-width="0.85"/>
<circle cx="202.50" cy="349.30" r="1.6" fill="none" stroke="#000080" stroke-width="0.85"/>
<circle cx="206.00" cy="349.80" r="1.6" fill="none" stroke="#000080" stroke-width="0.85"/>
<circle cx="197.00" cy="352.80" r="1.6" fill="none" stroke="#000080" stroke-width="0.85"/>
<circle cx="203.50" cy="353.20" r="1.6" fill="none" stroke="#000080" stroke-width="0.85"/>
<circle cx="191.50" cy="351.50" r="1.6" fill="none" stroke="#000080" stroke-width="0.85"/>
<line x1="64.40" y1="323.10" x2="64.40" y2="330.50" stroke="#000" stroke-width="1.2" />
<line x1="60.10" y1="323.10" x2="68.70" y2="323.10" stroke="#000" stroke-width="1.2" />
<line x1="60.10" y1="330.50" x2="68.70" y2="330.50" stroke="#000" stroke-width="1.2" />
<line x1="83.40" y1="326.40" x2="83.40" y2="330.20" stroke="#000080" stroke-width="1.2" />
<line x1="79.10" y1="326.40" x2="87.70" y2="326.40" stroke="#000080" stroke-width="1.2" />
<line x1="79.10" y1="330.20" x2="87.70" y2="330.20" stroke="#000080" stroke-width="1.2" />
<line x1="122.00" y1="263.40" x2="122.00" y2="273.50" stroke="#000" stroke-width="1.2" />
<line x1="117.50" y1="263.40" x2="126.50" y2="263.40" stroke="#000" stroke-width="1.2" />
<line x1="117.50" y1="273.50" x2="126.50" y2="273.50" stroke="#000" stroke-width="1.2" />
<line x1="141.40" y1="257.10" x2="141.40" y2="266.70" stroke="#000080" stroke-width="1.2" />
<line x1="137.10" y1="257.10" x2="145.70" y2="257.10" stroke="#000080" stroke-width="1.2" />
<line x1="137.10" y1="266.70" x2="145.70" y2="266.70" stroke="#000080" stroke-width="1.2" />
<line x1="180.00" y1="351.20" x2="180.00" y2="353.20" stroke="#000" stroke-width="1.2" />
<line x1="176.00" y1="351.20" x2="184.00" y2="351.20" stroke="#000" stroke-width="1.2" />
<line x1="176.00" y1="353.20" x2="184.00" y2="353.20" stroke="#000" stroke-width="1.2" />
<line x1="199.00" y1="348.80" x2="199.00" y2="351.00" stroke="#000080" stroke-width="1.2" />
<line x1="195.00" y1="348.80" x2="203.00" y2="348.80" stroke="#000080" stroke-width="1.2" />
<line x1="195.00" y1="351.00" x2="203.00" y2="351.00" stroke="#000080" stroke-width="1.2" />
<text x="254.20" y="177.50" font-size="15" font-weight="bold">E</text>
<line x1="273.00" y1="209.70" x2="273.00" y2="364.05" stroke="#000" stroke-width="1.5" />
<line x1="269.40" y1="363.30" x2="273.00" y2="363.30" stroke="#000" stroke-width="1.5" />
<text x="267.20" y="367.43" font-size="11.8" text-anchor="end" fill="#000" >0</text>
<line x1="269.40" y1="312.10" x2="273.00" y2="312.10" stroke="#000" stroke-width="1.5" />
<text x="267.20" y="316.23" font-size="11.8" text-anchor="end" fill="#000" >10</text>
<line x1="269.40" y1="260.90" x2="273.00" y2="260.90" stroke="#000" stroke-width="1.5" />
<text x="267.20" y="265.03" font-size="11.8" text-anchor="end" fill="#000" >20</text>
<line x1="269.40" y1="209.70" x2="273.00" y2="209.70" stroke="#000" stroke-width="1.5" />
<text x="267.20" y="213.83" font-size="11.8" text-anchor="end" fill="#000" >30</text>
<line x1="272.25" y1="363.30" x2="475.50" y2="363.30" stroke="#000" stroke-width="1.5" />
<line x1="273.00" y1="363.30" x2="273.00" y2="366.90" stroke="#000" stroke-width="1.5" />
<line x1="323.62" y1="363.30" x2="323.62" y2="366.90" stroke="#000" stroke-width="1.5" />
<line x1="374.25" y1="363.30" x2="374.25" y2="366.90" stroke="#000" stroke-width="1.5" />
<line x1="424.88" y1="363.30" x2="424.88" y2="366.90" stroke="#000" stroke-width="1.5" />
<line x1="475.50" y1="363.30" x2="475.50" y2="366.90" stroke="#000" stroke-width="1.5" />
<text x="273.00" y="380.73" font-size="11.8" text-anchor="middle" fill="#000" >0</text>
<text x="323.62" y="380.73" font-size="11.8" text-anchor="middle" fill="#000" >30</text>
<text x="374.25" y="380.73" font-size="11.8" text-anchor="middle" fill="#000" >60</text>
<text x="424.88" y="380.73" font-size="11.8" text-anchor="middle" fill="#000" >90</text>
<text x="475.50" y="380.73" font-size="11.8" text-anchor="middle" fill="#000" >120</text>
<text x="374.40" y="395.83" font-size="11.8" text-anchor="middle" fill="#000" >Time (mins)</text>
<text transform="translate(247.62,285.90) rotate(-90)" font-size="12.05" text-anchor="middle" fill="#000" >Blood Glucose (mmol/L)</text>
<path d="M 273.00 310.20 L 323.62 228.20 L 374.25 259.10 L 424.88 285.90 L 475.50 298.20" fill="none" stroke="#111" stroke-width="1.15" />
<line x1="273.00" y1="308.50" x2="273.00" y2="312.00" stroke="#111" stroke-width="1.0" />
<line x1="271.40" y1="308.50" x2="274.60" y2="308.50" stroke="#111" stroke-width="1.0" />
<line x1="271.40" y1="312.00" x2="274.60" y2="312.00" stroke="#111" stroke-width="1.0" />
<line x1="323.62" y1="224.50" x2="323.62" y2="232.00" stroke="#111" stroke-width="1.0" />
<line x1="322.02" y1="224.50" x2="325.23" y2="224.50" stroke="#111" stroke-width="1.0" />
<line x1="322.02" y1="232.00" x2="325.23" y2="232.00" stroke="#111" stroke-width="1.0" />
<line x1="374.25" y1="254.20" x2="374.25" y2="264.80" stroke="#111" stroke-width="1.0" />
<line x1="372.65" y1="254.20" x2="375.85" y2="254.20" stroke="#111" stroke-width="1.0" />
<line x1="372.65" y1="264.80" x2="375.85" y2="264.80" stroke="#111" stroke-width="1.0" />
<line x1="424.88" y1="282.70" x2="424.88" y2="289.20" stroke="#111" stroke-width="1.0" />
<line x1="423.27" y1="282.70" x2="426.48" y2="282.70" stroke="#111" stroke-width="1.0" />
<line x1="423.27" y1="289.20" x2="426.48" y2="289.20" stroke="#111" stroke-width="1.0" />
<line x1="475.50" y1="295.30" x2="475.50" y2="301.20" stroke="#111" stroke-width="1.0" />
<line x1="473.90" y1="295.30" x2="477.10" y2="295.30" stroke="#111" stroke-width="1.0" />
<line x1="473.90" y1="301.20" x2="477.10" y2="301.20" stroke="#111" stroke-width="1.0" />
<circle cx="273.00" cy="310.20" r="1.6" fill="#fff" stroke="#111" stroke-width="0.9"/>
<circle cx="323.62" cy="228.20" r="1.6" fill="#fff" stroke="#111" stroke-width="0.9"/>
<circle cx="374.25" cy="259.10" r="1.6" fill="#fff" stroke="#111" stroke-width="0.9"/>
<circle cx="424.88" cy="285.90" r="1.6" fill="#fff" stroke="#111" stroke-width="0.9"/>
<circle cx="475.50" cy="298.20" r="1.6" fill="#fff" stroke="#111" stroke-width="0.9"/>
<path d="M 273.00 313.30 L 323.62 234.60 L 374.25 268.60 L 424.88 293.80 L 475.50 306.90" fill="none" stroke="#000080" stroke-width="1.15" />
<line x1="273.00" y1="311.50" x2="273.00" y2="315.00" stroke="#000080" stroke-width="1.0" />
<line x1="271.40" y1="311.50" x2="274.60" y2="311.50" stroke="#000080" stroke-width="1.0" />
<line x1="271.40" y1="315.00" x2="274.60" y2="315.00" stroke="#000080" stroke-width="1.0" />
<line x1="323.62" y1="232.20" x2="323.62" y2="238.90" stroke="#000080" stroke-width="1.0" />
<line x1="322.02" y1="232.20" x2="325.23" y2="232.20" stroke="#000080" stroke-width="1.0" />
<line x1="322.02" y1="238.90" x2="325.23" y2="238.90" stroke="#000080" stroke-width="1.0" />
<line x1="374.25" y1="263.30" x2="374.25" y2="274.30" stroke="#000080" stroke-width="1.0" />
<line x1="372.65" y1="263.30" x2="375.85" y2="263.30" stroke="#000080" stroke-width="1.0" />
<line x1="372.65" y1="274.30" x2="375.85" y2="274.30" stroke="#000080" stroke-width="1.0" />
<line x1="424.88" y1="290.30" x2="424.88" y2="297.30" stroke="#000080" stroke-width="1.0" />
<line x1="423.27" y1="290.30" x2="426.48" y2="290.30" stroke="#000080" stroke-width="1.0" />
<line x1="423.27" y1="297.30" x2="426.48" y2="297.30" stroke="#000080" stroke-width="1.0" />
<line x1="475.50" y1="304.20" x2="475.50" y2="309.70" stroke="#000080" stroke-width="1.0" />
<line x1="473.90" y1="304.20" x2="477.10" y2="304.20" stroke="#000080" stroke-width="1.0" />
<line x1="473.90" y1="309.70" x2="477.10" y2="309.70" stroke="#000080" stroke-width="1.0" />
<circle cx="273.00" cy="313.30" r="1.6" fill="#fff" stroke="#000080" stroke-width="0.9"/>
<circle cx="323.62" cy="234.60" r="1.6" fill="#fff" stroke="#000080" stroke-width="0.9"/>
<circle cx="374.25" cy="268.60" r="1.6" fill="#fff" stroke="#000080" stroke-width="0.9"/>
<circle cx="424.88" cy="293.80" r="1.6" fill="#fff" stroke="#000080" stroke-width="0.9"/>
<circle cx="475.50" cy="306.90" r="1.6" fill="#fff" stroke="#000080" stroke-width="0.9"/>
<line x1="278.00" y1="338.80" x2="293.70" y2="338.80" stroke="#222" stroke-width="1.0" />
<circle cx="286.10" cy="338.80" r="1.4" fill="none" stroke="#222" stroke-width="1.0"/>
<line x1="278.00" y1="354.00" x2="293.70" y2="354.00" stroke="#000080" stroke-width="1.0" />
<circle cx="286.10" cy="354.00" r="1.4" fill="none" stroke="#000080" stroke-width="1.0"/>
<text x="303.80" y="342.90" font-size="11.7" text-anchor="start" fill="#000" >Control</text>
<text x="303.8" y="358.4" font-size="11.7">ECIGF-1R<tspan font-size="8.77" dy="-4.45">KD</tspan></text>
<text x="505.80" y="177.60" font-size="15" font-weight="bold">F</text>
<line x1="560.10" y1="202.40" x2="560.10" y2="364.05" stroke="#000" stroke-width="1.5" />
<line x1="555.90" y1="363.30" x2="560.10" y2="363.30" stroke="#000" stroke-width="1.5" />
<text x="553.90" y="367.64" font-size="12.4" text-anchor="end" fill="#000" >0</text>
<line x1="555.90" y1="331.12" x2="560.10" y2="331.12" stroke="#000" stroke-width="1.5" />
<text x="553.90" y="335.46" font-size="12.4" text-anchor="end" fill="#000" >20</text>
<line x1="555.90" y1="298.94" x2="560.10" y2="298.94" stroke="#000" stroke-width="1.5" />
<text x="553.90" y="303.28" font-size="12.4" text-anchor="end" fill="#000" >40</text>
<line x1="555.90" y1="266.76" x2="560.10" y2="266.76" stroke="#000" stroke-width="1.5" />
<text x="553.90" y="271.10" font-size="12.4" text-anchor="end" fill="#000" >60</text>
<line x1="555.90" y1="234.58" x2="560.10" y2="234.58" stroke="#000" stroke-width="1.5" />
<text x="553.90" y="238.92" font-size="12.4" text-anchor="end" fill="#000" >80</text>
<line x1="555.90" y1="202.40" x2="560.10" y2="202.40" stroke="#000" stroke-width="1.5" />
<text x="553.90" y="206.74" font-size="12.4" text-anchor="end" fill="#000" >100</text>
<line x1="559.35" y1="363.30" x2="667.40" y2="363.30" stroke="#000" stroke-width="1.5" />
<line x1="586.80" y1="363.30" x2="586.80" y2="367.50" stroke="#000" stroke-width="1.5" />
<line x1="640.00" y1="363.30" x2="640.00" y2="367.50" stroke="#000" stroke-width="1.5" />
<text transform="translate(526.70,282.70) rotate(-90)" font-size="13.5" text-anchor="middle" fill="#000" >Area under curve (AU)</text>
<text x="565.1" y="382.9" font-size="12.3">ControlECIGF-1R<tspan font-size="9.23" dy="-4.67">KD</tspan></text>
<path d="M 574.4 363.3 L 574.4 246 L 599.4 246 L 599.4 363.3" fill="none" stroke="#000" stroke-width="1.7" />
<path d="M 627.7 363.3 L 627.7 254.9 L 653.1 254.9 L 653.1 363.3" fill="none" stroke="#000080" stroke-width="1.7" />
<circle cx="586.80" cy="203.70" r="1.6" fill="none" stroke="#111" stroke-width="0.9"/>
<circle cx="583.40" cy="221.80" r="1.6" fill="none" stroke="#111" stroke-width="0.9"/>
<circle cx="590.00" cy="220.40" r="1.6" fill="none" stroke="#111" stroke-width="0.9"/>
<circle cx="586.80" cy="227.20" r="1.6" fill="none" stroke="#111" stroke-width="0.9"/>
<circle cx="590.00" cy="234.90" r="1.6" fill="none" stroke="#111" stroke-width="0.9"/>
<circle cx="583.40" cy="237.30" r="1.6" fill="none" stroke="#111" stroke-width="0.9"/>
<circle cx="596.60" cy="239.10" r="1.6" fill="none" stroke="#111" stroke-width="0.9"/>
<circle cx="596.60" cy="242.90" r="1.6" fill="none" stroke="#111" stroke-width="0.9"/>
<circle cx="583.70" cy="243.50" r="1.6" fill="none" stroke="#111" stroke-width="0.9"/>
<circle cx="577.20" cy="243.80" r="1.6" fill="none" stroke="#111" stroke-width="0.9"/>
<circle cx="577.20" cy="249.80" r="1.6" fill="none" stroke="#111" stroke-width="0.9"/>
<circle cx="583.40" cy="251.90" r="1.6" fill="none" stroke="#111" stroke-width="0.9"/>
<circle cx="590.00" cy="250.90" r="1.6" fill="none" stroke="#111" stroke-width="0.9"/>
<circle cx="596.60" cy="250.20" r="1.6" fill="none" stroke="#111" stroke-width="0.9"/>
<circle cx="583.40" cy="257.10" r="1.6" fill="none" stroke="#111" stroke-width="0.9"/>
<circle cx="590.00" cy="256.70" r="1.6" fill="none" stroke="#111" stroke-width="0.9"/>
<circle cx="586.80" cy="260.90" r="1.6" fill="none" stroke="#111" stroke-width="0.9"/>
<circle cx="583.40" cy="266.80" r="1.6" fill="none" stroke="#111" stroke-width="0.9"/>
<circle cx="590.00" cy="269.20" r="1.6" fill="none" stroke="#111" stroke-width="0.9"/>
<circle cx="586.80" cy="273.00" r="1.6" fill="none" stroke="#111" stroke-width="0.9"/>
<circle cx="639.90" cy="238.40" r="1.6" fill="none" stroke="#000080" stroke-width="0.9"/>
<circle cx="639.90" cy="242.90" r="1.6" fill="none" stroke="#000080" stroke-width="0.9"/>
<circle cx="633.70" cy="246.00" r="1.6" fill="none" stroke="#000080" stroke-width="0.9"/>
<circle cx="646.80" cy="247.70" r="1.6" fill="none" stroke="#000080" stroke-width="0.9"/>
<circle cx="639.90" cy="249.50" r="1.6" fill="none" stroke="#000080" stroke-width="0.9"/>
<circle cx="646.80" cy="257.70" r="1.6" fill="none" stroke="#000080" stroke-width="0.9"/>
<circle cx="639.90" cy="258.10" r="1.6" fill="none" stroke="#000080" stroke-width="0.9"/>
<circle cx="633.70" cy="260.20" r="1.6" fill="none" stroke="#000080" stroke-width="0.9"/>
<circle cx="646.80" cy="261.90" r="1.6" fill="none" stroke="#000080" stroke-width="0.9"/>
<circle cx="643.40" cy="265.70" r="1.6" fill="none" stroke="#000080" stroke-width="0.9"/>
<circle cx="636.80" cy="267.80" r="1.6" fill="none" stroke="#000080" stroke-width="0.9"/>
<line x1="586.90" y1="241.20" x2="586.90" y2="248.40" stroke="#000" stroke-width="1.2" />
<line x1="580.40" y1="241.20" x2="593.40" y2="241.20" stroke="#000" stroke-width="1.2" />
<line x1="580.40" y1="248.40" x2="593.40" y2="248.40" stroke="#000" stroke-width="1.2" />
<line x1="640.10" y1="251.20" x2="640.10" y2="256.70" stroke="#000080" stroke-width="1.2" />
<line x1="634.10" y1="251.20" x2="646.10" y2="251.20" stroke="#000080" stroke-width="1.2" />
<line x1="634.10" y1="256.70" x2="646.10" y2="256.70" stroke="#000080" stroke-width="1.2" />
<text x="0.90" y="413.10" font-size="15" font-weight="bold">G</text>
<line x1="46.60" y1="450.80" x2="46.60" y2="600.15" stroke="#000" stroke-width="1.5" />
<line x1="43.00" y1="599.40" x2="46.60" y2="599.40" stroke="#000" stroke-width="1.5" />
<text x="41.00" y="603.46" font-size="11.6" text-anchor="end" fill="#000" >40</text>
<line x1="43.00" y1="549.87" x2="46.60" y2="549.87" stroke="#000" stroke-width="1.5" />
<text x="41.00" y="553.93" font-size="11.6" text-anchor="end" fill="#000" >60</text>
<line x1="43.00" y1="500.33" x2="46.60" y2="500.33" stroke="#000" stroke-width="1.5" />
<text x="41.00" y="504.39" font-size="11.6" text-anchor="end" fill="#000" >80</text>
<line x1="43.00" y1="450.80" x2="46.60" y2="450.80" stroke="#000" stroke-width="1.5" />
<text x="41.00" y="454.86" font-size="11.6" text-anchor="end" fill="#000" >100</text>
<line x1="45.85" y1="599.40" x2="213.70" y2="599.40" stroke="#000" stroke-width="1.5" />
<line x1="46.60" y1="599.40" x2="46.60" y2="603.00" stroke="#000" stroke-width="1.5" />
<line x1="88.38" y1="599.40" x2="88.38" y2="603.00" stroke="#000" stroke-width="1.5" />
<line x1="130.15" y1="599.40" x2="130.15" y2="603.00" stroke="#000" stroke-width="1.5" />
<line x1="171.93" y1="599.40" x2="171.93" y2="603.00" stroke="#000" stroke-width="1.5" />
<line x1="213.70" y1="599.40" x2="213.70" y2="603.00" stroke="#000" stroke-width="1.5" />
<text x="46.60" y="616.06" font-size="11.6" text-anchor="middle" fill="#000" >0</text>
<text x="88.38" y="616.06" font-size="11.6" text-anchor="middle" fill="#000" >30</text>
<text x="130.15" y="616.06" font-size="11.6" text-anchor="middle" fill="#000" >60</text>
<text x="171.93" y="616.06" font-size="11.6" text-anchor="middle" fill="#000" >90</text>
<text x="213.70" y="616.06" font-size="11.6" text-anchor="middle" fill="#000" >120</text>
<text x="130.30" y="631.06" font-size="11.6" text-anchor="middle" fill="#000" >Time (mins)</text>
<text transform="translate(16.30,524.55) rotate(-90)" font-size="11.27" text-anchor="middle" fill="#000" >% change in blood glucose</text>
<path d="M 46.60 450.80 L 88.38 518.10 L 130.15 527.70 L 171.93 523.70 L 213.70 490.00" fill="none" stroke="#111" stroke-width="1.15" />
<line x1="88.38" y1="504.40" x2="88.38" y2="531.50" stroke="#111" stroke-width="1.0" />
<line x1="86.58" y1="504.40" x2="90.17" y2="504.40" stroke="#111" stroke-width="1.0" />
<line x1="86.58" y1="531.50" x2="90.17" y2="531.50" stroke="#111" stroke-width="1.0" />
<line x1="130.15" y1="513.20" x2="130.15" y2="541.90" stroke="#111" stroke-width="1.0" />
<line x1="128.35" y1="513.20" x2="131.95" y2="513.20" stroke="#111" stroke-width="1.0" />
<line x1="128.35" y1="541.90" x2="131.95" y2="541.90" stroke="#111" stroke-width="1.0" />
<line x1="171.93" y1="505.10" x2="171.93" y2="541.90" stroke="#111" stroke-width="1.0" />
<line x1="170.12" y1="505.10" x2="173.73" y2="505.10" stroke="#111" stroke-width="1.0" />
<line x1="170.12" y1="541.90" x2="173.73" y2="541.90" stroke="#111" stroke-width="1.0" />
<line x1="213.70" y1="474.30" x2="213.70" y2="505.10" stroke="#111" stroke-width="1.0" />
<line x1="211.90" y1="474.30" x2="215.50" y2="474.30" stroke="#111" stroke-width="1.0" />
<line x1="211.90" y1="505.10" x2="215.50" y2="505.10" stroke="#111" stroke-width="1.0" />
<circle cx="46.60" cy="450.80" r="1.6" fill="#fff" stroke="#111" stroke-width="0.9"/>
<circle cx="88.38" cy="518.10" r="1.6" fill="#fff" stroke="#111" stroke-width="0.9"/>
<circle cx="130.15" cy="527.70" r="1.6" fill="#fff" stroke="#111" stroke-width="0.9"/>
<circle cx="171.93" cy="523.70" r="1.6" fill="#fff" stroke="#111" stroke-width="0.9"/>
<circle cx="213.70" cy="490.00" r="1.6" fill="#fff" stroke="#111" stroke-width="0.9"/>
<path d="M 46.60 450.80 L 88.38 559.40 L 130.15 569.20 L 171.93 568.20 L 213.70 550.70" fill="none" stroke="#000080" stroke-width="1.15" />
<line x1="88.38" y1="546.50" x2="88.38" y2="572.40" stroke="#000080" stroke-width="1.0" />
<line x1="86.58" y1="546.50" x2="90.17" y2="546.50" stroke="#000080" stroke-width="1.0" />
<line x1="86.58" y1="572.40" x2="90.17" y2="572.40" stroke="#000080" stroke-width="1.0" />
<line x1="130.15" y1="562.90" x2="130.15" y2="575.90" stroke="#000080" stroke-width="1.0" />
<line x1="128.35" y1="562.90" x2="131.95" y2="562.90" stroke="#000080" stroke-width="1.0" />
<line x1="128.35" y1="575.90" x2="131.95" y2="575.90" stroke="#000080" stroke-width="1.0" />
<line x1="171.93" y1="558.40" x2="171.93" y2="579.40" stroke="#000080" stroke-width="1.0" />
<line x1="170.12" y1="558.40" x2="173.73" y2="558.40" stroke="#000080" stroke-width="1.0" />
<line x1="170.12" y1="579.40" x2="173.73" y2="579.40" stroke="#000080" stroke-width="1.0" />
<line x1="213.70" y1="537.40" x2="213.70" y2="563.30" stroke="#000080" stroke-width="1.0" />
<line x1="211.90" y1="537.40" x2="215.50" y2="537.40" stroke="#000080" stroke-width="1.0" />
<line x1="211.90" y1="563.30" x2="215.50" y2="563.30" stroke="#000080" stroke-width="1.0" />
<circle cx="46.60" cy="450.80" r="1.6" fill="#fff" stroke="#000080" stroke-width="0.9"/>
<circle cx="88.38" cy="559.40" r="1.6" fill="#fff" stroke="#000080" stroke-width="0.9"/>
<circle cx="130.15" cy="569.20" r="1.6" fill="#fff" stroke="#000080" stroke-width="0.9"/>
<circle cx="171.93" cy="568.20" r="1.6" fill="#fff" stroke="#000080" stroke-width="0.9"/>
<circle cx="213.70" cy="550.70" r="1.6" fill="#fff" stroke="#000080" stroke-width="0.9"/>
<circle cx="46.60" cy="450.80" r="1.6" fill="#111" stroke="#111" stroke-width="1"/>
<text x="130.45" y="510.40" font-size="10.5" text-anchor="middle" fill="#111" >*</text>
<text x="213.70" y="471.60" font-size="10.5" text-anchor="middle" fill="#111" >*</text>
<line x1="92.30" y1="435.80" x2="107.90" y2="435.80" stroke="#555" stroke-width="1.0" />
<circle cx="100.10" cy="435.80" r="1.4" fill="#fff" stroke="#222" stroke-width="1.0"/>
<line x1="92.30" y1="455.80" x2="107.90" y2="455.80" stroke="#000080" stroke-width="1.0" />
<circle cx="100.10" cy="455.80" r="1.4" fill="#fff" stroke="#000080" stroke-width="1.0"/>
<text x="117.40" y="439.86" font-size="11.6" text-anchor="start" fill="#000" >Control</text>
<text x="117.4" y="459.90" font-size="11.6">ECIGF-1R<tspan font-size="8.70" dy="-4.41">KD</tspan></text>
<text x="232.10" y="415.10" font-size="15" font-weight="bold">H</text>
<line x1="288.40" y1="432.80" x2="288.40" y2="596.95" stroke="#000" stroke-width="1.5" />
<line x1="284.20" y1="596.20" x2="288.40" y2="596.20" stroke="#000" stroke-width="1.5" />
<text x="281.70" y="600.54" font-size="12.4" text-anchor="end" fill="#000" >0</text>
<line x1="284.20" y1="563.52" x2="288.40" y2="563.52" stroke="#000" stroke-width="1.5" />
<text x="281.70" y="567.86" font-size="12.4" text-anchor="end" fill="#000" >100</text>
<line x1="284.20" y1="530.84" x2="288.40" y2="530.84" stroke="#000" stroke-width="1.5" />
<text x="281.70" y="535.18" font-size="12.4" text-anchor="end" fill="#000" >200</text>
<line x1="284.20" y1="498.16" x2="288.40" y2="498.16" stroke="#000" stroke-width="1.5" />
<text x="281.70" y="502.50" font-size="12.4" text-anchor="end" fill="#000" >300</text>
<line x1="284.20" y1="465.48" x2="288.40" y2="465.48" stroke="#000" stroke-width="1.5" />
<text x="281.70" y="469.82" font-size="12.4" text-anchor="end" fill="#000" >400</text>
<line x1="284.20" y1="432.80" x2="288.40" y2="432.80" stroke="#000" stroke-width="1.5" />
<text x="281.70" y="437.14" font-size="12.4" text-anchor="end" fill="#000" >500</text>
<line x1="287.65" y1="596.20" x2="390.60" y2="596.20" stroke="#000" stroke-width="1.5" />
<line x1="313.60" y1="596.20" x2="313.60" y2="600.20" stroke="#000" stroke-width="1.5" />
<line x1="365.10" y1="596.20" x2="365.10" y2="600.20" stroke="#000" stroke-width="1.5" />
<text transform="translate(252.54,514.50) rotate(-90)" font-size="12.4" text-anchor="middle" fill="#000" >Area under curve (AU)</text>
<text x="292.0" y="616.1" font-size="12.2">ControECIGF-1R<tspan font-size="9.15" dy="-4.64">KD</tspan></text>
<text x="314.20" y="629.60" font-size="12.2" text-anchor="middle" fill="#000" >(HFD)</text>
<text x="364.70" y="629.60" font-size="12.2" text-anchor="middle" fill="#000" >(HFD)</text>
<path d="M 302.2 596.2 L 302.2 497.4 L 326.0 497.4 L 326.0 596.2" fill="none" stroke="#000" stroke-width="1.7" />
<path d="M 353.1 596.2 L 353.1 517.7 L 376.9 517.7 L 376.9 596.2" fill="none" stroke="#000080" stroke-width="1.7" />
<path d="M 310.9 439.2 L 310.9 429.9 L 367.4 429.9 L 367.4 490.1" fill="none" stroke="#333" stroke-width="0.9" />
<line x1="339.50" y1="417.50" x2="339.50" y2="424.50" stroke="#000" stroke-width="1.5" stroke-linecap="butt"/>
<line x1="336.47" y1="419.25" x2="342.53" y2="422.75" stroke="#000" stroke-width="1.5" stroke-linecap="butt"/>
<line x1="336.47" y1="422.75" x2="342.53" y2="419.25" stroke="#000" stroke-width="1.5" stroke-linecap="butt"/>
<circle cx="339.50" cy="421.00" r="1.12" fill="#000"/>
<circle cx="313.80" cy="448.60" r="1.6" fill="none" stroke="#111" stroke-width="0.9"/>
<circle cx="313.80" cy="453.60" r="1.6" fill="none" stroke="#111" stroke-width="0.9"/>
<circle cx="313.80" cy="463.00" r="1.6" fill="none" stroke="#111" stroke-width="0.9"/>
<circle cx="313.80" cy="470.60" r="1.6" fill="none" stroke="#111" stroke-width="0.9"/>
<circle cx="313.80" cy="477.40" r="1.6" fill="none" stroke="#111" stroke-width="0.9"/>
<circle cx="313.80" cy="481.40" r="1.6" fill="none" stroke="#111" stroke-width="0.9"/>
<circle cx="313.80" cy="488.60" r="1.6" fill="none" stroke="#111" stroke-width="0.9"/>
<circle cx="313.80" cy="511.60" r="1.6" fill="none" stroke="#111" stroke-width="0.9"/>
<circle cx="320.40" cy="510.70" r="1.6" fill="none" stroke="#111" stroke-width="0.9"/>
<circle cx="320.40" cy="514.20" r="1.6" fill="none" stroke="#111" stroke-width="0.9"/>
<circle cx="307.20" cy="514.90" r="1.6" fill="none" stroke="#111" stroke-width="0.9"/>
<circle cx="313.80" cy="516.20" r="1.6" fill="none" stroke="#111" stroke-width="0.9"/>
<circle cx="307.20" cy="519.90" r="1.6" fill="none" stroke="#111" stroke-width="0.9"/>
<circle cx="313.80" cy="521.70" r="1.6" fill="none" stroke="#111" stroke-width="0.9"/>
<circle cx="320.40" cy="523.40" r="1.6" fill="none" stroke="#111" stroke-width="0.9"/>
<circle cx="307.20" cy="525.10" r="1.6" fill="none" stroke="#111" stroke-width="0.9"/>
<circle cx="361.40" cy="500.70" r="1.6" fill="none" stroke="#000080" stroke-width="0.9"/>
<circle cx="361.40" cy="504.40" r="1.6" fill="none" stroke="#000080" stroke-width="0.9"/>
<circle cx="367.90" cy="503.10" r="1.6" fill="none" stroke="#000080" stroke-width="0.9"/>
<circle cx="361.40" cy="514.90" r="1.6" fill="none" stroke="#000080" stroke-width="0.9"/>
<circle cx="367.90" cy="514.90" r="1.6" fill="none" stroke="#000080" stroke-width="0.9"/>
<circle cx="364.60" cy="518.80" r="1.6" fill="none" stroke="#000080" stroke-width="0.9"/>
<circle cx="364.60" cy="522.80" r="1.6" fill="none" stroke="#000080" stroke-width="0.9"/>
<circle cx="361.40" cy="527.00" r="1.6" fill="none" stroke="#000080" stroke-width="0.9"/>
<circle cx="367.90" cy="529.10" r="1.6" fill="none" stroke="#000080" stroke-width="0.9"/>
<circle cx="361.40" cy="531.60" r="1.6" fill="none" stroke="#000080" stroke-width="0.9"/>
<circle cx="313.80" cy="502.80" r="1.6" fill="#111" stroke="#111" stroke-width="0.9"/>
<line x1="313.80" y1="490.30" x2="313.80" y2="503.10" stroke="#000" stroke-width="1.2" />
<line x1="307.90" y1="490.30" x2="319.70" y2="490.30" stroke="#000" stroke-width="1.2" />
<line x1="307.90" y1="503.10" x2="319.70" y2="503.10" stroke="#000" stroke-width="1.2" />
<line x1="364.60" y1="513.30" x2="364.60" y2="519.50" stroke="#000080" stroke-width="1.2" />
<line x1="358.70" y1="513.30" x2="370.50" y2="513.30" stroke="#000080" stroke-width="1.2" />
<line x1="358.70" y1="519.50" x2="370.50" y2="519.50" stroke="#000080" stroke-width="1.2" />
<text x="419.00" y="414.70" font-size="15" font-weight="bold">I</text>
<rect x="566.70" y="429.20" width="99.30" height="169.70" fill="#d5d5d5" stroke="none" stroke-width="0" />
<line x1="476.00" y1="429.90" x2="476.00" y2="599.70" stroke="#000" stroke-width="1.6" />
<line x1="469.70" y1="598.90" x2="476.00" y2="598.90" stroke="#000" stroke-width="1.6" />
<text x="467.30" y="603.17" font-size="12.2" text-anchor="end" fill="#000" >0.4</text>
<line x1="469.70" y1="556.65" x2="476.00" y2="556.65" stroke="#000" stroke-width="1.6" />
<text x="467.30" y="560.92" font-size="12.2" text-anchor="end" fill="#000" >0.5</text>
<line x1="469.70" y1="514.40" x2="476.00" y2="514.40" stroke="#000" stroke-width="1.6" />
<text x="467.30" y="518.67" font-size="12.2" text-anchor="end" fill="#000" >0.6</text>
<line x1="469.70" y1="472.15" x2="476.00" y2="472.15" stroke="#000" stroke-width="1.6" />
<text x="467.30" y="476.42" font-size="12.2" text-anchor="end" fill="#000" >0.7</text>
<line x1="469.70" y1="429.90" x2="476.00" y2="429.90" stroke="#000" stroke-width="1.6" />
<text x="467.30" y="434.17" font-size="12.2" text-anchor="end" fill="#000" >0.8</text>
<line x1="475.20" y1="598.90" x2="664.88" y2="598.90" stroke="#000" stroke-width="1.6" />
<line x1="476.00" y1="598.90" x2="476.00" y2="604.90" stroke="#000" stroke-width="1.6" />
<line x1="491.74" y1="598.90" x2="491.74" y2="604.90" stroke="#000" stroke-width="1.6" />
<line x1="507.48" y1="598.90" x2="507.48" y2="604.90" stroke="#000" stroke-width="1.6" />
<line x1="523.22" y1="598.90" x2="523.22" y2="604.90" stroke="#000" stroke-width="1.6" />
<line x1="538.96" y1="598.90" x2="538.96" y2="604.90" stroke="#000" stroke-width="1.6" />
<line x1="554.70" y1="598.90" x2="554.70" y2="604.90" stroke="#000" stroke-width="1.6" />
<line x1="570.44" y1="598.90" x2="570.44" y2="604.90" stroke="#000" stroke-width="1.6" />
<line x1="586.18" y1="598.90" x2="586.18" y2="604.90" stroke="#000" stroke-width="1.6" />
<line x1="601.92" y1="598.90" x2="601.92" y2="604.90" stroke="#000" stroke-width="1.6" />
<line x1="617.66" y1="598.90" x2="617.66" y2="604.90" stroke="#000" stroke-width="1.6" />
<line x1="633.40" y1="598.90" x2="633.40" y2="604.90" stroke="#000" stroke-width="1.6" />
<line x1="649.14" y1="598.90" x2="649.14" y2="604.90" stroke="#000" stroke-width="1.6" />
<line x1="664.88" y1="598.90" x2="664.88" y2="604.90" stroke="#000" stroke-width="1.6" />
<text x="476.00" y="620.27" font-size="12.2" text-anchor="middle" fill="#000" >0</text>
<text x="491.74" y="620.27" font-size="12.2" text-anchor="middle" fill="#000" >2</text>
<text x="507.48" y="620.27" font-size="12.2" text-anchor="middle" fill="#000" >4</text>
<text x="523.22" y="620.27" font-size="12.2" text-anchor="middle" fill="#000" >6</text>
<text x="538.96" y="620.27" font-size="12.2" text-anchor="middle" fill="#000" >8</text>
<text x="554.70" y="620.27" font-size="12.2" text-anchor="middle" fill="#000" >10</text>
<text x="570.44" y="620.27" font-size="12.2" text-anchor="middle" fill="#000" >12</text>
<text x="586.18" y="620.27" font-size="12.2" text-anchor="middle" fill="#000" >14</text>
<text x="601.92" y="620.27" font-size="12.2" text-anchor="middle" fill="#000" >16</text>
<text x="617.66" y="620.27" font-size="12.2" text-anchor="middle" fill="#000" >18</text>
<text x="633.40" y="620.27" font-size="12.2" text-anchor="middle" fill="#000" >20</text>
<text x="649.14" y="620.27" font-size="12.2" text-anchor="middle" fill="#000" >22</text>
<text x="664.88" y="620.27" font-size="12.2" text-anchor="middle" fill="#000" >24</text>
<text x="571.50" y="637.41" font-size="12.6" text-anchor="middle" fill="#000" >Time (hour)</text>
<text transform="translate(444.10,514.10) rotate(-90)" font-size="12.92" text-anchor="middle" fill="#000" >Energy Expenditure (kcal/hr)</text>
<path d="M 476.00 532.80 L 483.87 552.50 L 491.74 539.90 L 499.61 553.50 L 507.48 563.70 L 515.35 535.50 L 523.22 548.10 L 531.09 554.20 L 538.96 544.30 L 546.83 554.70 L 554.70 546.60 L 562.57 549.60 L 570.44 542.30 L 578.31 524.30 L 586.18 501.80 L 594.05 504.50 L 601.92 493.30 L 609.79 517.40 L 617.66 511.40 L 625.53 522.70 L 633.40 532.60 L 641.27 504.00 L 649.14 524.30 L 657.01 515.80 L 664.88 531.30" fill="none" stroke="#111" stroke-width="1.1" />
<line x1="476.00" y1="519.00" x2="476.00" y2="546.00" stroke="#111" stroke-width="1.0" />
<line x1="474.40" y1="519.00" x2="477.60" y2="519.00" stroke="#111" stroke-width="1.0" />
<line x1="474.40" y1="546.00" x2="477.60" y2="546.00" stroke="#111" stroke-width="1.0" />
<line x1="483.87" y1="541.80" x2="483.87" y2="563.00" stroke="#111" stroke-width="1.0" />
<line x1="482.27" y1="541.80" x2="485.47" y2="541.80" stroke="#111" stroke-width="1.0" />
<line x1="482.27" y1="563.00" x2="485.47" y2="563.00" stroke="#111" stroke-width="1.0" />
<line x1="491.74" y1="532.60" x2="491.74" y2="547.20" stroke="#111" stroke-width="1.0" />
<line x1="490.14" y1="532.60" x2="493.34" y2="532.60" stroke="#111" stroke-width="1.0" />
<line x1="490.14" y1="547.20" x2="493.34" y2="547.20" stroke="#111" stroke-width="1.0" />
<line x1="499.61" y1="548.40" x2="499.61" y2="558.30" stroke="#111" stroke-width="1.0" />
<line x1="498.01" y1="548.40" x2="501.21" y2="548.40" stroke="#111" stroke-width="1.0" />
<line x1="498.01" y1="558.30" x2="501.21" y2="558.30" stroke="#111" stroke-width="1.0" />
<line x1="507.48" y1="555.70" x2="507.48" y2="571.50" stroke="#111" stroke-width="1.0" />
<line x1="505.88" y1="555.70" x2="509.08" y2="555.70" stroke="#111" stroke-width="1.0" />
<line x1="505.88" y1="571.50" x2="509.08" y2="571.50" stroke="#111" stroke-width="1.0" />
<line x1="515.35" y1="517.30" x2="515.35" y2="553.50" stroke="#111" stroke-width="1.0" />
<line x1="513.75" y1="517.30" x2="516.95" y2="517.30" stroke="#111" stroke-width="1.0" />
<line x1="513.75" y1="553.50" x2="516.95" y2="553.50" stroke="#111" stroke-width="1.0" />
<line x1="523.22" y1="537.40" x2="523.22" y2="558.30" stroke="#111" stroke-width="1.0" />
<line x1="521.62" y1="537.40" x2="524.82" y2="537.40" stroke="#111" stroke-width="1.0" />
<line x1="521.62" y1="558.30" x2="524.82" y2="558.30" stroke="#111" stroke-width="1.0" />
<line x1="531.09" y1="549.90" x2="531.09" y2="560.10" stroke="#111" stroke-width="1.0" />
<line x1="529.49" y1="549.90" x2="532.69" y2="549.90" stroke="#111" stroke-width="1.0" />
<line x1="529.49" y1="560.10" x2="532.69" y2="560.10" stroke="#111" stroke-width="1.0" />
<line x1="538.96" y1="538.90" x2="538.96" y2="553.10" stroke="#111" stroke-width="1.0" />
<line x1="537.36" y1="538.90" x2="540.56" y2="538.90" stroke="#111" stroke-width="1.0" />
<line x1="537.36" y1="553.10" x2="540.56" y2="553.10" stroke="#111" stroke-width="1.0" />
<line x1="546.83" y1="545.20" x2="546.83" y2="564.50" stroke="#111" stroke-width="1.0" />
<line x1="545.23" y1="545.20" x2="548.43" y2="545.20" stroke="#111" stroke-width="1.0" />
<line x1="545.23" y1="564.50" x2="548.43" y2="564.50" stroke="#111" stroke-width="1.0" />
<line x1="554.70" y1="541.80" x2="554.70" y2="557.90" stroke="#111" stroke-width="1.0" />
<line x1="553.10" y1="541.80" x2="556.30" y2="541.80" stroke="#111" stroke-width="1.0" />
<line x1="553.10" y1="557.90" x2="556.30" y2="557.90" stroke="#111" stroke-width="1.0" />
<line x1="562.57" y1="543.10" x2="562.57" y2="557.50" stroke="#111" stroke-width="1.0" />
<line x1="560.97" y1="543.10" x2="564.17" y2="543.10" stroke="#111" stroke-width="1.0" />
<line x1="560.97" y1="557.50" x2="564.17" y2="557.50" stroke="#111" stroke-width="1.0" />
<line x1="570.44" y1="538.30" x2="570.44" y2="547.40" stroke="#111" stroke-width="1.0" />
<line x1="568.84" y1="538.30" x2="572.04" y2="538.30" stroke="#111" stroke-width="1.0" />
<line x1="568.84" y1="547.40" x2="572.04" y2="547.40" stroke="#111" stroke-width="1.0" />
<line x1="578.31" y1="518.20" x2="578.31" y2="530.20" stroke="#111" stroke-width="1.0" />
<line x1="576.71" y1="518.20" x2="579.91" y2="518.20" stroke="#111" stroke-width="1.0" />
<line x1="576.71" y1="530.20" x2="579.91" y2="530.20" stroke="#111" stroke-width="1.0" />
<line x1="586.18" y1="495.40" x2="586.18" y2="508.50" stroke="#111" stroke-width="1.0" />
<line x1="584.58" y1="495.40" x2="587.78" y2="495.40" stroke="#111" stroke-width="1.0" />
<line x1="584.58" y1="508.50" x2="587.78" y2="508.50" stroke="#111" stroke-width="1.0" />
<line x1="594.05" y1="494.40" x2="594.05" y2="515.30" stroke="#111" stroke-width="1.0" />
<line x1="592.45" y1="494.40" x2="595.65" y2="494.40" stroke="#111" stroke-width="1.0" />
<line x1="592.45" y1="515.30" x2="595.65" y2="515.30" stroke="#111" stroke-width="1.0" />
<line x1="601.92" y1="485.30" x2="601.92" y2="502.10" stroke="#111" stroke-width="1.0" />
<line x1="600.32" y1="485.30" x2="603.52" y2="485.30" stroke="#111" stroke-width="1.0" />
<line x1="600.32" y1="502.10" x2="603.52" y2="502.10" stroke="#111" stroke-width="1.0" />
<line x1="609.79" y1="508.20" x2="609.79" y2="526.50" stroke="#111" stroke-width="1.0" />
<line x1="608.19" y1="508.20" x2="611.39" y2="508.20" stroke="#111" stroke-width="1.0" />
<line x1="608.19" y1="526.50" x2="611.39" y2="526.50" stroke="#111" stroke-width="1.0" />
<line x1="617.66" y1="503.70" x2="617.66" y2="520.60" stroke="#111" stroke-width="1.0" />
<line x1="616.06" y1="503.70" x2="619.26" y2="503.70" stroke="#111" stroke-width="1.0" />
<line x1="616.06" y1="520.60" x2="619.26" y2="520.60" stroke="#111" stroke-width="1.0" />
<line x1="625.53" y1="510.10" x2="625.53" y2="535.50" stroke="#111" stroke-width="1.0" />
<line x1="623.93" y1="510.10" x2="627.13" y2="510.10" stroke="#111" stroke-width="1.0" />
<line x1="623.93" y1="535.50" x2="627.13" y2="535.50" stroke="#111" stroke-width="1.0" />
<line x1="633.40" y1="522.20" x2="633.40" y2="543.50" stroke="#111" stroke-width="1.0" />
<line x1="631.80" y1="522.20" x2="635.00" y2="522.20" stroke="#111" stroke-width="1.0" />
<line x1="631.80" y1="543.50" x2="635.00" y2="543.50" stroke="#111" stroke-width="1.0" />
<line x1="641.27" y1="496.50" x2="641.27" y2="511.40" stroke="#111" stroke-width="1.0" />
<line x1="639.67" y1="496.50" x2="642.87" y2="496.50" stroke="#111" stroke-width="1.0" />
<line x1="639.67" y1="511.40" x2="642.87" y2="511.40" stroke="#111" stroke-width="1.0" />
<line x1="649.14" y1="513.40" x2="649.14" y2="535.50" stroke="#111" stroke-width="1.0" />
<line x1="647.54" y1="513.40" x2="650.74" y2="513.40" stroke="#111" stroke-width="1.0" />
<line x1="647.54" y1="535.50" x2="650.74" y2="535.50" stroke="#111" stroke-width="1.0" />
<line x1="657.01" y1="506.60" x2="657.01" y2="525.40" stroke="#111" stroke-width="1.0" />
<line x1="655.41" y1="506.60" x2="658.61" y2="506.60" stroke="#111" stroke-width="1.0" />
<line x1="655.41" y1="525.40" x2="658.61" y2="525.40" stroke="#111" stroke-width="1.0" />
<line x1="664.88" y1="506.60" x2="664.88" y2="556.70" stroke="#111" stroke-width="1.0" />
<line x1="663.28" y1="506.60" x2="666.48" y2="506.60" stroke="#111" stroke-width="1.0" />
<line x1="663.28" y1="556.70" x2="666.48" y2="556.70" stroke="#111" stroke-width="1.0" />
<circle cx="476.00" cy="532.80" r="1.7" fill="none" stroke="#111" stroke-width="0.9"/>
<circle cx="483.87" cy="552.50" r="1.7" fill="none" stroke="#111" stroke-width="0.9"/>
<circle cx="491.74" cy="539.90" r="1.7" fill="none" stroke="#111" stroke-width="0.9"/>
<circle cx="499.61" cy="553.50" r="1.7" fill="none" stroke="#111" stroke-width="0.9"/>
<circle cx="507.48" cy="563.70" r="1.7" fill="none" stroke="#111" stroke-width="0.9"/>
<circle cx="515.35" cy="535.50" r="1.7" fill="none" stroke="#111" stroke-width="0.9"/>
<circle cx="523.22" cy="548.10" r="1.7" fill="none" stroke="#111" stroke-width="0.9"/>
<circle cx="531.09" cy="554.20" r="1.7" fill="none" stroke="#111" stroke-width="0.9"/>
<circle cx="538.96" cy="544.30" r="1.7" fill="none" stroke="#111" stroke-width="0.9"/>
<circle cx="546.83" cy="554.70" r="1.7" fill="none" stroke="#111" stroke-width="0.9"/>
<circle cx="554.70" cy="546.60" r="1.7" fill="none" stroke="#111" stroke-width="0.9"/>
<circle cx="562.57" cy="549.60" r="1.7" fill="none" stroke="#111" stroke-width="0.9"/>
<circle cx="570.44" cy="542.30" r="1.7" fill="none" stroke="#111" stroke-width="0.9"/>
<circle cx="578.31" cy="524.30" r="1.7" fill="none" stroke="#111" stroke-width="0.9"/>
<circle cx="586.18" cy="501.80" r="1.7" fill="none" stroke="#111" stroke-width="0.9"/>
<circle cx="594.05" cy="504.50" r="1.7" fill="none" stroke="#111" stroke-width="0.9"/>
<circle cx="601.92" cy="493.30" r="1.7" fill="none" stroke="#111" stroke-width="0.9"/>
<circle cx="609.79" cy="517.40" r="1.7" fill="none" stroke="#111" stroke-width="0.9"/>
<circle cx="617.66" cy="511.40" r="1.7" fill="none" stroke="#111" stroke-width="0.9"/>
<circle cx="625.53" cy="522.70" r="1.7" fill="none" stroke="#111" stroke-width="0.9"/>
<circle cx="633.40" cy="532.60" r="1.7" fill="none" stroke="#111" stroke-width="0.9"/>
<circle cx="641.27" cy="504.00" r="1.7" fill="none" stroke="#111" stroke-width="0.9"/>
<circle cx="649.14" cy="524.30" r="1.7" fill="none" stroke="#111" stroke-width="0.9"/>
<circle cx="657.01" cy="515.80" r="1.7" fill="none" stroke="#111" stroke-width="0.9"/>
<circle cx="664.88" cy="531.30" r="1.7" fill="none" stroke="#111" stroke-width="0.9"/>
<path d="M 476.00 512.20 L 483.87 529.40 L 491.74 539.90 L 499.61 543.30 L 507.48 542.60 L 515.35 532.00 L 523.22 538.90 L 531.09 544.70 L 538.96 535.50 L 546.83 547.20 L 554.70 535.50 L 562.57 534.10 L 570.44 528.70 L 578.31 502.60 L 586.18 487.30 L 594.05 487.30 L 601.92 482.50 L 609.79 490.60 L 617.66 495.70 L 625.53 505.00 L 633.40 502.90 L 641.27 500.50 L 649.14 504.50 L 657.01 486.10 L 664.88 493.80" fill="none" stroke="#000080" stroke-width="1.1" />
<line x1="476.00" y1="501.00" x2="476.00" y2="523.30" stroke="#000080" stroke-width="1.0" />
<line x1="474.40" y1="501.00" x2="477.60" y2="501.00" stroke="#000080" stroke-width="1.0" />
<line x1="474.40" y1="523.30" x2="477.60" y2="523.30" stroke="#000080" stroke-width="1.0" />
<line x1="483.87" y1="519.60" x2="483.87" y2="539.30" stroke="#000080" stroke-width="1.0" />
<line x1="482.27" y1="519.60" x2="485.47" y2="519.60" stroke="#000080" stroke-width="1.0" />
<line x1="482.27" y1="539.30" x2="485.47" y2="539.30" stroke="#000080" stroke-width="1.0" />
<line x1="491.74" y1="533.00" x2="491.74" y2="546.00" stroke="#000080" stroke-width="1.0" />
<line x1="490.14" y1="533.00" x2="493.34" y2="533.00" stroke="#000080" stroke-width="1.0" />
<line x1="490.14" y1="546.00" x2="493.34" y2="546.00" stroke="#000080" stroke-width="1.0" />
<line x1="499.61" y1="535.50" x2="499.61" y2="549.90" stroke="#000080" stroke-width="1.0" />
<line x1="498.01" y1="535.50" x2="501.21" y2="535.50" stroke="#000080" stroke-width="1.0" />
<line x1="498.01" y1="549.90" x2="501.21" y2="549.90" stroke="#000080" stroke-width="1.0" />
<line x1="507.48" y1="533.40" x2="507.48" y2="551.30" stroke="#000080" stroke-width="1.0" />
<line x1="505.88" y1="533.40" x2="509.08" y2="533.40" stroke="#000080" stroke-width="1.0" />
<line x1="505.88" y1="551.30" x2="509.08" y2="551.30" stroke="#000080" stroke-width="1.0" />
<line x1="515.35" y1="523.60" x2="515.35" y2="540.40" stroke="#000080" stroke-width="1.0" />
<line x1="513.75" y1="523.60" x2="516.95" y2="523.60" stroke="#000080" stroke-width="1.0" />
<line x1="513.75" y1="540.40" x2="516.95" y2="540.40" stroke="#000080" stroke-width="1.0" />
<line x1="523.22" y1="533.40" x2="523.22" y2="544.70" stroke="#000080" stroke-width="1.0" />
<line x1="521.62" y1="533.40" x2="524.82" y2="533.40" stroke="#000080" stroke-width="1.0" />
<line x1="521.62" y1="544.70" x2="524.82" y2="544.70" stroke="#000080" stroke-width="1.0" />
<line x1="531.09" y1="537.00" x2="531.09" y2="552.80" stroke="#000080" stroke-width="1.0" />
<line x1="529.49" y1="537.00" x2="532.69" y2="537.00" stroke="#000080" stroke-width="1.0" />
<line x1="529.49" y1="552.80" x2="532.69" y2="552.80" stroke="#000080" stroke-width="1.0" />
<line x1="538.96" y1="524.00" x2="538.96" y2="546.90" stroke="#000080" stroke-width="1.0" />
<line x1="537.36" y1="524.00" x2="540.56" y2="524.00" stroke="#000080" stroke-width="1.0" />
<line x1="537.36" y1="546.90" x2="540.56" y2="546.90" stroke="#000080" stroke-width="1.0" />
<line x1="546.83" y1="539.30" x2="546.83" y2="555.00" stroke="#000080" stroke-width="1.0" />
<line x1="545.23" y1="539.30" x2="548.43" y2="539.30" stroke="#000080" stroke-width="1.0" />
<line x1="545.23" y1="555.00" x2="548.43" y2="555.00" stroke="#000080" stroke-width="1.0" />
<line x1="554.70" y1="528.70" x2="554.70" y2="542.60" stroke="#000080" stroke-width="1.0" />
<line x1="553.10" y1="528.70" x2="556.30" y2="528.70" stroke="#000080" stroke-width="1.0" />
<line x1="553.10" y1="542.60" x2="556.30" y2="542.60" stroke="#000080" stroke-width="1.0" />
<line x1="562.57" y1="524.30" x2="562.57" y2="543.80" stroke="#000080" stroke-width="1.0" />
<line x1="560.97" y1="524.30" x2="564.17" y2="524.30" stroke="#000080" stroke-width="1.0" />
<line x1="560.97" y1="543.80" x2="564.17" y2="543.80" stroke="#000080" stroke-width="1.0" />
<line x1="570.44" y1="515.30" x2="570.44" y2="541.50" stroke="#000080" stroke-width="1.0" />
<line x1="568.84" y1="515.30" x2="572.04" y2="515.30" stroke="#000080" stroke-width="1.0" />
<line x1="568.84" y1="541.50" x2="572.04" y2="541.50" stroke="#000080" stroke-width="1.0" />
<line x1="578.31" y1="496.50" x2="578.31" y2="508.50" stroke="#000080" stroke-width="1.0" />
<line x1="576.71" y1="496.50" x2="579.91" y2="496.50" stroke="#000080" stroke-width="1.0" />
<line x1="576.71" y1="508.50" x2="579.91" y2="508.50" stroke="#000080" stroke-width="1.0" />
<line x1="586.18" y1="475.60" x2="586.18" y2="498.10" stroke="#000080" stroke-width="1.0" />
<line x1="584.58" y1="475.60" x2="587.78" y2="475.60" stroke="#000080" stroke-width="1.0" />
<line x1="584.58" y1="498.10" x2="587.78" y2="498.10" stroke="#000080" stroke-width="1.0" />
<line x1="594.05" y1="480.00" x2="594.05" y2="494.10" stroke="#000080" stroke-width="1.0" />
<line x1="592.45" y1="480.00" x2="595.65" y2="480.00" stroke="#000080" stroke-width="1.0" />
<line x1="592.45" y1="494.10" x2="595.65" y2="494.10" stroke="#000080" stroke-width="1.0" />
<line x1="601.92" y1="471.60" x2="601.92" y2="492.50" stroke="#000080" stroke-width="1.0" />
<line x1="600.32" y1="471.60" x2="603.52" y2="471.60" stroke="#000080" stroke-width="1.0" />
<line x1="600.32" y1="492.50" x2="603.52" y2="492.50" stroke="#000080" stroke-width="1.0" />
<line x1="609.79" y1="484.80" x2="609.79" y2="497.00" stroke="#000080" stroke-width="1.0" />
<line x1="608.19" y1="484.80" x2="611.39" y2="484.80" stroke="#000080" stroke-width="1.0" />
<line x1="608.19" y1="497.00" x2="611.39" y2="497.00" stroke="#000080" stroke-width="1.0" />
<line x1="617.66" y1="484.50" x2="617.66" y2="506.90" stroke="#000080" stroke-width="1.0" />
<line x1="616.06" y1="484.50" x2="619.26" y2="484.50" stroke="#000080" stroke-width="1.0" />
<line x1="616.06" y1="506.90" x2="619.26" y2="506.90" stroke="#000080" stroke-width="1.0" />
<line x1="625.53" y1="495.40" x2="625.53" y2="515.30" stroke="#000080" stroke-width="1.0" />
<line x1="623.93" y1="495.40" x2="627.13" y2="495.40" stroke="#000080" stroke-width="1.0" />
<line x1="623.93" y1="515.30" x2="627.13" y2="515.30" stroke="#000080" stroke-width="1.0" />
<line x1="633.40" y1="492.80" x2="633.40" y2="512.60" stroke="#000080" stroke-width="1.0" />
<line x1="631.80" y1="492.80" x2="635.00" y2="492.80" stroke="#000080" stroke-width="1.0" />
<line x1="631.80" y1="512.60" x2="635.00" y2="512.60" stroke="#000080" stroke-width="1.0" />
<line x1="641.27" y1="491.70" x2="641.27" y2="510.10" stroke="#000080" stroke-width="1.0" />
<line x1="639.67" y1="491.70" x2="642.87" y2="491.70" stroke="#000080" stroke-width="1.0" />
<line x1="639.67" y1="510.10" x2="642.87" y2="510.10" stroke="#000080" stroke-width="1.0" />
<line x1="649.14" y1="499.70" x2="649.14" y2="507.70" stroke="#000080" stroke-width="1.0" />
<line x1="647.54" y1="499.70" x2="650.74" y2="499.70" stroke="#000080" stroke-width="1.0" />
<line x1="647.54" y1="507.70" x2="650.74" y2="507.70" stroke="#000080" stroke-width="1.0" />
<line x1="657.01" y1="470.80" x2="657.01" y2="503.70" stroke="#000080" stroke-width="1.0" />
<line x1="655.41" y1="470.80" x2="658.61" y2="470.80" stroke="#000080" stroke-width="1.0" />
<line x1="655.41" y1="503.70" x2="658.61" y2="503.70" stroke="#000080" stroke-width="1.0" />
<line x1="664.88" y1="484.10" x2="664.88" y2="503.40" stroke="#000080" stroke-width="1.0" />
<line x1="663.28" y1="484.10" x2="666.48" y2="484.10" stroke="#000080" stroke-width="1.0" />
<line x1="663.28" y1="503.40" x2="666.48" y2="503.40" stroke="#000080" stroke-width="1.0" />
<circle cx="476.00" cy="512.20" r="1.7" fill="none" stroke="#000080" stroke-width="0.9"/>
<circle cx="483.87" cy="529.40" r="1.7" fill="none" stroke="#000080" stroke-width="0.9"/>
<circle cx="491.74" cy="539.90" r="1.7" fill="none" stroke="#000080" stroke-width="0.9"/>
<circle cx="499.61" cy="543.30" r="1.7" fill="none" stroke="#000080" stroke-width="0.9"/>
<circle cx="507.48" cy="542.60" r="1.7" fill="none" stroke="#000080" stroke-width="0.9"/>
<circle cx="515.35" cy="532.00" r="1.7" fill="none" stroke="#000080" stroke-width="0.9"/>
<circle cx="523.22" cy="538.90" r="1.7" fill="none" stroke="#000080" stroke-width="0.9"/>
<circle cx="531.09" cy="544.70" r="1.7" fill="none" stroke="#000080" stroke-width="0.9"/>
<circle cx="538.96" cy="535.50" r="1.7" fill="none" stroke="#000080" stroke-width="0.9"/>
<circle cx="546.83" cy="547.20" r="1.7" fill="none" stroke="#000080" stroke-width="0.9"/>
<circle cx="554.70" cy="535.50" r="1.7" fill="none" stroke="#000080" stroke-width="0.9"/>
<circle cx="562.57" cy="534.10" r="1.7" fill="none" stroke="#000080" stroke-width="0.9"/>
<circle cx="570.44" cy="528.70" r="1.7" fill="none" stroke="#000080" stroke-width="0.9"/>
<circle cx="578.31" cy="502.60" r="1.7" fill="none" stroke="#000080" stroke-width="0.9"/>
<circle cx="586.18" cy="487.30" r="1.7" fill="none" stroke="#000080" stroke-width="0.9"/>
<circle cx="594.05" cy="487.30" r="1.7" fill="none" stroke="#000080" stroke-width="0.9"/>
<circle cx="601.92" cy="482.50" r="1.7" fill="none" stroke="#000080" stroke-width="0.9"/>
<circle cx="609.79" cy="490.60" r="1.7" fill="none" stroke="#000080" stroke-width="0.9"/>
<circle cx="617.66" cy="495.70" r="1.7" fill="none" stroke="#000080" stroke-width="0.9"/>
<circle cx="625.53" cy="505.00" r="1.7" fill="none" stroke="#000080" stroke-width="0.9"/>
<circle cx="633.40" cy="502.90" r="1.7" fill="none" stroke="#000080" stroke-width="0.9"/>
<circle cx="641.27" cy="500.50" r="1.7" fill="none" stroke="#000080" stroke-width="0.9"/>
<circle cx="649.14" cy="504.50" r="1.7" fill="none" stroke="#000080" stroke-width="0.9"/>
<circle cx="657.01" cy="486.10" r="1.7" fill="none" stroke="#000080" stroke-width="0.9"/>
<circle cx="664.88" cy="493.80" r="1.7" fill="none" stroke="#000080" stroke-width="0.9"/>
<line x1="480.30" y1="432.70" x2="497.80" y2="432.70" stroke="#333" stroke-width="1.0" />
<circle cx="488.40" cy="432.70" r="1.4" fill="#fff" stroke="#222" stroke-width="1.0"/>
<line x1="480.30" y1="454.90" x2="497.80" y2="454.90" stroke="#000080" stroke-width="1.0" />
<circle cx="488.40" cy="454.90" r="1.4" fill="#fff" stroke="#000080" stroke-width="1.0"/>
<text x="508.30" y="437.07" font-size="12.5" text-anchor="start" fill="#000" >Control</text>
<text x="508.3" y="460.50" font-size="12.5">ECIGF-1R<tspan font-size="9.38" dy="-4.75">KD</tspan></text>
<text x="1.60" y="668.90" font-size="15" font-weight="bold">J</text>
<line x1="45.90" y1="718.20" x2="45.90" y2="874.40" stroke="#000" stroke-width="1.6" />
<line x1="41.60" y1="873.60" x2="45.90" y2="873.60" stroke="#000" stroke-width="1.6" />
<text x="38.60" y="877.80" font-size="12.0" text-anchor="end" font-weight="bold" fill="#000" >0</text>
<line x1="41.60" y1="834.75" x2="45.90" y2="834.75" stroke="#000" stroke-width="1.6" />
<text x="38.60" y="838.95" font-size="12.0" text-anchor="end" font-weight="bold" fill="#000" >5</text>
<line x1="41.60" y1="795.90" x2="45.90" y2="795.90" stroke="#000" stroke-width="1.6" />
<text x="38.60" y="800.10" font-size="12.0" text-anchor="end" font-weight="bold" fill="#000" >10</text>
<line x1="41.60" y1="757.05" x2="45.90" y2="757.05" stroke="#000" stroke-width="1.6" />
<text x="38.60" y="761.25" font-size="12.0" text-anchor="end" font-weight="bold" fill="#000" >15</text>
<line x1="41.60" y1="718.20" x2="45.90" y2="718.20" stroke="#000" stroke-width="1.6" />
<text x="38.60" y="722.40" font-size="12.0" text-anchor="end" font-weight="bold" fill="#000" >20</text>
<line x1="45.10" y1="873.60" x2="191.80" y2="873.60" stroke="#000" stroke-width="1.6" />
<line x1="67.60" y1="873.60" x2="67.60" y2="878.60" stroke="#000" stroke-width="1.6" />
<line x1="117.80" y1="873.60" x2="117.80" y2="878.60" stroke="#000" stroke-width="1.6" />
<line x1="168.00" y1="873.60" x2="168.00" y2="878.60" stroke="#000" stroke-width="1.6" />
<text transform="translate(17.74,792.70) rotate(-90)" font-size="12.4" text-anchor="middle" fill="#000" >Energy expenditure (kcal/period)</text>
<text x="67.60" y="892.06" font-size="11.6" text-anchor="middle" fill="#000" >Full day</text>
<text x="117.80" y="892.06" font-size="11.6" text-anchor="middle" fill="#000" >Light</text>
<text x="168.00" y="892.06" font-size="11.6" text-anchor="middle" fill="#000" >Dark</text>
<circle cx="67.20" cy="681.90" r="1.6" fill="none" stroke="#111" stroke-width="0.9"/>
<circle cx="67.20" cy="703.10" r="1.6" fill="none" stroke="#000080" stroke-width="0.9"/>
<text x="84.60" y="686.17" font-size="12.2" text-anchor="start" fill="#000" >Control</text>
<text x="84.6" y="707.40" font-size="12.2">ECIGF-1R<tspan font-size="9.15" dy="-4.64">KD</tspan></text>
<path d="M 52.8 873.6 L 52.8 774.8 L 64.3 774.8 L 64.3 873.6" fill="none" stroke="#000" stroke-width="1.6" />
<path d="M 71.5 873.6 L 71.5 768.2 L 83.3 768.2 L 83.3 873.6" fill="none" stroke="#000080" stroke-width="1.6" />
<path d="M 103.1 873.6 L 103.1 825.4 L 114.7 825.4 L 114.7 873.6" fill="none" stroke="#000" stroke-width="1.6" />
<path d="M 121.8 873.6 L 121.8 823.3 L 133.4 823.3 L 133.4 873.6" fill="none" stroke="#000080" stroke-width="1.6" />
<path d="M 153.8 873.6 L 153.8 822.6 L 165.4 822.6 L 165.4 873.6" fill="none" stroke="#000" stroke-width="1.6" />
<path d="M 172.4 873.6 L 172.4 819.5 L 184.1 819.5 L 184.1 873.6" fill="none" stroke="#000080" stroke-width="1.6" />
<circle cx="55.10" cy="767.30" r="1.6" fill="none" stroke="#111" stroke-width="0.9"/>
<circle cx="61.40" cy="768.90" r="1.6" fill="none" stroke="#111" stroke-width="0.9"/>
<circle cx="55.80" cy="772.80" r="1.6" fill="none" stroke="#111" stroke-width="0.9"/>
<circle cx="61.40" cy="774.80" r="1.6" fill="none" stroke="#111" stroke-width="0.9"/>
<circle cx="58.40" cy="784.90" r="1.6" fill="none" stroke="#111" stroke-width="0.9"/>
<circle cx="103.50" cy="821.90" r="1.6" fill="none" stroke="#111" stroke-width="0.9"/>
<circle cx="108.20" cy="821.90" r="1.6" fill="none" stroke="#111" stroke-width="0.9"/>
<circle cx="112.90" cy="823.70" r="1.6" fill="none" stroke="#111" stroke-width="0.9"/>
<circle cx="108.90" cy="831.90" r="1.6" fill="none" stroke="#111" stroke-width="0.9"/>
<circle cx="105.50" cy="826.00" r="1.6" fill="none" stroke="#111" stroke-width="0.9"/>
<circle cx="154.50" cy="820.90" r="1.6" fill="none" stroke="#111" stroke-width="0.9"/>
<circle cx="163.80" cy="819.50" r="1.6" fill="none" stroke="#111" stroke-width="0.9"/>
<circle cx="159.10" cy="827.20" r="1.6" fill="none" stroke="#111" stroke-width="0.9"/>
<circle cx="158.00" cy="822.50" r="1.6" fill="none" stroke="#111" stroke-width="0.9"/>
<circle cx="162.00" cy="823.50" r="1.6" fill="none" stroke="#111" stroke-width="0.9"/>
<circle cx="73.90" cy="760.70" r="1.6" fill="none" stroke="#000080" stroke-width="0.9"/>
<circle cx="80.50" cy="758.40" r="1.6" fill="none" stroke="#000080" stroke-width="0.9"/>
<circle cx="74.80" cy="766.20" r="1.6" fill="none" stroke="#000080" stroke-width="0.9"/>
<circle cx="80.50" cy="766.20" r="1.6" fill="none" stroke="#000080" stroke-width="0.9"/>
<circle cx="73.90" cy="777.80" r="1.6" fill="none" stroke="#000080" stroke-width="0.9"/>
<circle cx="80.50" cy="775.70" r="1.6" fill="none" stroke="#000080" stroke-width="0.9"/>
<circle cx="122.90" cy="818.40" r="1.6" fill="none" stroke="#000080" stroke-width="0.9"/>
<circle cx="127.60" cy="819.10" r="1.6" fill="none" stroke="#000080" stroke-width="0.9"/>
<circle cx="132.30" cy="821.40" r="1.6" fill="none" stroke="#000080" stroke-width="0.9"/>
<circle cx="124.10" cy="827.20" r="1.6" fill="none" stroke="#000080" stroke-width="0.9"/>
<circle cx="129.90" cy="827.20" r="1.6" fill="none" stroke="#000080" stroke-width="0.9"/>
<circle cx="175.00" cy="815.50" r="1.6" fill="none" stroke="#000080" stroke-width="0.9"/>
<circle cx="180.90" cy="814.40" r="1.6" fill="none" stroke="#000080" stroke-width="0.9"/>
<circle cx="175.00" cy="823.30" r="1.6" fill="none" stroke="#000080" stroke-width="0.9"/>
<circle cx="180.90" cy="823.30" r="1.6" fill="none" stroke="#000080" stroke-width="0.9"/>
<circle cx="178.00" cy="819.00" r="1.6" fill="none" stroke="#000080" stroke-width="0.9"/>
<line x1="58.50" y1="772.30" x2="58.50" y2="777.00" stroke="#000" stroke-width="1.2" />
<line x1="55.00" y1="772.30" x2="62.00" y2="772.30" stroke="#000" stroke-width="1.2" />
<line x1="55.00" y1="777.00" x2="62.00" y2="777.00" stroke="#000" stroke-width="1.2" />
<line x1="77.40" y1="765.50" x2="77.40" y2="770.80" stroke="#000080" stroke-width="1.2" />
<line x1="73.90" y1="765.50" x2="80.90" y2="765.50" stroke="#000080" stroke-width="1.2" />
<line x1="73.90" y1="770.80" x2="80.90" y2="770.80" stroke="#000080" stroke-width="1.2" />
<line x1="108.90" y1="823.50" x2="108.90" y2="827.50" stroke="#000" stroke-width="1.2" />
<line x1="105.40" y1="823.50" x2="112.40" y2="823.50" stroke="#000" stroke-width="1.2" />
<line x1="105.40" y1="827.50" x2="112.40" y2="827.50" stroke="#000" stroke-width="1.2" />
<line x1="127.60" y1="821.50" x2="127.60" y2="825.20" stroke="#000080" stroke-width="1.2" />
<line x1="124.10" y1="821.50" x2="131.10" y2="821.50" stroke="#000080" stroke-width="1.2" />
<line x1="124.10" y1="825.20" x2="131.10" y2="825.20" stroke="#000080" stroke-width="1.2" />
<line x1="159.60" y1="821.00" x2="159.60" y2="824.30" stroke="#000" stroke-width="1.2" />
<line x1="156.10" y1="821.00" x2="163.10" y2="821.00" stroke="#000" stroke-width="1.2" />
<line x1="156.10" y1="824.30" x2="163.10" y2="824.30" stroke="#000" stroke-width="1.2" />
<line x1="178.20" y1="817.80" x2="178.20" y2="821.20" stroke="#000080" stroke-width="1.2" />
<line x1="174.70" y1="817.80" x2="181.70" y2="817.80" stroke="#000080" stroke-width="1.2" />
<line x1="174.70" y1="821.20" x2="181.70" y2="821.20" stroke="#000080" stroke-width="1.2" />
<path d="M 59.7 766.2 L 59.7 737.6 L 79.2 737.6 L 79.2 747.6" fill="none" stroke="#666" stroke-width="1.0" />
<path d="M 158.4 813.2 L 158.4 796.2 L 181.8 796.2 L 181.8 799.9" fill="none" stroke="#444" stroke-width="1.0" />
<line x1="69.35" y1="724.75" x2="69.35" y2="730.55" stroke="#000" stroke-width="1.4" stroke-linecap="butt"/>
<line x1="66.84" y1="726.20" x2="71.86" y2="729.10" stroke="#000" stroke-width="1.4" stroke-linecap="butt"/>
<line x1="66.84" y1="729.10" x2="71.86" y2="726.20" stroke="#000" stroke-width="1.4" stroke-linecap="butt"/>
<circle cx="69.35" cy="727.65" r="1.05" fill="#000"/>
<line x1="170.10" y1="783.90" x2="170.10" y2="789.70" stroke="#000" stroke-width="1.4" stroke-linecap="butt"/>
<line x1="167.59" y1="785.35" x2="172.61" y2="788.25" stroke="#000" stroke-width="1.4" stroke-linecap="butt"/>
<line x1="167.59" y1="788.25" x2="172.61" y2="785.35" stroke="#000" stroke-width="1.4" stroke-linecap="butt"/>
<circle cx="170.10" cy="786.80" r="1.05" fill="#000"/>
<text x="221.20" y="669.00" font-size="15" font-weight="bold">K</text>
<line x1="235.40" y1="710.40" x2="235.40" y2="874.95" stroke="#000" stroke-width="1.5" />
<line x1="231.20" y1="874.20" x2="235.40" y2="874.20" stroke="#000" stroke-width="1.5" />
<text x="229.00" y="878.54" font-size="12.4" text-anchor="end" fill="#000" >0</text>
<line x1="231.20" y1="833.25" x2="235.40" y2="833.25" stroke="#000" stroke-width="1.5" />
<text x="229.00" y="837.59" font-size="12.4" text-anchor="end" fill="#000" >20</text>
<line x1="231.20" y1="792.30" x2="235.40" y2="792.30" stroke="#000" stroke-width="1.5" />
<text x="229.00" y="796.64" font-size="12.4" text-anchor="end" fill="#000" >40</text>
<line x1="231.20" y1="751.35" x2="235.40" y2="751.35" stroke="#000" stroke-width="1.5" />
<text x="229.00" y="755.69" font-size="12.4" text-anchor="end" fill="#000" >60</text>
<line x1="231.20" y1="710.40" x2="235.40" y2="710.40" stroke="#000" stroke-width="1.5" />
<text x="229.00" y="714.74" font-size="12.4" text-anchor="end" fill="#000" >80</text>
<line x1="234.65" y1="874.20" x2="346.30" y2="874.20" stroke="#000" stroke-width="1.5" />
<line x1="262.70" y1="874.20" x2="262.70" y2="878.80" stroke="#000" stroke-width="1.5" />
<line x1="318.10" y1="874.20" x2="318.10" y2="878.80" stroke="#000" stroke-width="1.5" />
<text transform="translate(202.94,792.50) rotate(-90)" font-size="12.4" text-anchor="middle" fill="#000" >Adiponectin (µg/ml)</text>
<text x="242.1" y="893.40" font-size="12.4">ControlECIGF-1R<tspan font-size="9.30" dy="-4.71">KD</tspan></text>
<path d="M 249.6 874.2 L 249.6 852.8 L 276.1 852.8 L 276.1 874.2" fill="none" stroke="#000" stroke-width="1.7" />
<path d="M 305.1 874.2 L 305.1 813.1 L 331.6 813.1 L 331.6 874.2" fill="none" stroke="#000080" stroke-width="1.7" />
<circle cx="262.60" cy="786.40" r="1.6" fill="none" stroke="#111" stroke-width="0.9"/>
<circle cx="262.60" cy="821.80" r="1.6" fill="none" stroke="#111" stroke-width="0.9"/>
<circle cx="262.60" cy="836.40" r="1.6" fill="none" stroke="#111" stroke-width="0.9"/>
<circle cx="262.60" cy="840.80" r="1.6" fill="none" stroke="#111" stroke-width="0.9"/>
<circle cx="262.60" cy="850.00" r="1.6" fill="none" stroke="#111" stroke-width="0.9"/>
<circle cx="250.50" cy="873.40" r="1.6" fill="none" stroke="#111" stroke-width="0.9"/>
<circle cx="255.30" cy="871.00" r="1.6" fill="none" stroke="#111" stroke-width="0.9"/>
<circle cx="260.40" cy="873.40" r="1.6" fill="none" stroke="#111" stroke-width="0.9"/>
<circle cx="265.10" cy="871.00" r="1.6" fill="none" stroke="#111" stroke-width="0.9"/>
<circle cx="269.90" cy="873.40" r="1.6" fill="none" stroke="#111" stroke-width="0.9"/>
<circle cx="274.70" cy="871.90" r="1.6" fill="none" stroke="#111" stroke-width="0.9"/>
<circle cx="318.10" cy="723.60" r="1.6" fill="none" stroke="#000080" stroke-width="0.9"/>
<circle cx="318.10" cy="738.90" r="1.6" fill="none" stroke="#000080" stroke-width="0.9"/>
<circle cx="318.10" cy="769.00" r="1.6" fill="none" stroke="#000080" stroke-width="0.9"/>
<circle cx="318.10" cy="774.70" r="1.6" fill="none" stroke="#000080" stroke-width="0.9"/>
<circle cx="318.10" cy="822.60" r="1.6" fill="none" stroke="#000080" stroke-width="0.9"/>
<circle cx="318.10" cy="843.70" r="1.6" fill="none" stroke="#000080" stroke-width="0.9"/>
<circle cx="318.10" cy="849.60" r="1.6" fill="none" stroke="#000080" stroke-width="0.9"/>
<circle cx="314.70" cy="862.70" r="1.6" fill="none" stroke="#000080" stroke-width="0.9"/>
<circle cx="321.50" cy="863.40" r="1.6" fill="none" stroke="#000080" stroke-width="0.9"/>
<circle cx="318.10" cy="873.40" r="1.6" fill="none" stroke="#000080" stroke-width="0.9"/>
<line x1="262.70" y1="843.40" x2="262.70" y2="860.80" stroke="#000" stroke-width="1.2" />
<line x1="255.80" y1="843.40" x2="269.60" y2="843.40" stroke="#000" stroke-width="1.2" />
<line x1="255.80" y1="860.80" x2="269.60" y2="860.80" stroke="#000" stroke-width="1.2" />
<line x1="318.10" y1="794.50" x2="318.10" y2="829.90" stroke="#000080" stroke-width="1.2" />
<line x1="311.10" y1="794.50" x2="325.10" y2="794.50" stroke="#000080" stroke-width="1.2" />
<line x1="311.10" y1="829.90" x2="325.10" y2="829.90" stroke="#000080" stroke-width="1.2" />
<path d="M 259.0 765.0 L 259.0 692.3 L 323.4 692.3 L 323.4 714.4" fill="none" stroke="#333" stroke-width="1.0" />
<line x1="291.00" y1="679.10" x2="291.00" y2="685.50" stroke="#000" stroke-width="1.5" stroke-linecap="butt"/>
<line x1="288.23" y1="680.70" x2="293.77" y2="683.90" stroke="#000" stroke-width="1.5" stroke-linecap="butt"/>
<line x1="288.23" y1="683.90" x2="293.77" y2="680.70" stroke="#000" stroke-width="1.5" stroke-linecap="butt"/>
<circle cx="291.00" cy="682.30" r="1.12" fill="#000"/>
<text x="385.50" y="669.10" font-size="15" font-weight="bold">L</text>
<line x1="386.00" y1="709.60" x2="386.00" y2="874.15" stroke="#000" stroke-width="1.5" />
<line x1="381.80" y1="873.40" x2="386.00" y2="873.40" stroke="#000" stroke-width="1.5" />
<text x="379.60" y="877.74" font-size="12.4" text-anchor="end" fill="#000" >0</text>
<line x1="381.80" y1="818.80" x2="386.00" y2="818.80" stroke="#000" stroke-width="1.5" />
<text x="379.60" y="823.14" font-size="12.4" text-anchor="end" fill="#000" >5</text>
<line x1="381.80" y1="764.20" x2="386.00" y2="764.20" stroke="#000" stroke-width="1.5" />
<text x="379.60" y="768.54" font-size="12.4" text-anchor="end" fill="#000" >10</text>
<line x1="381.80" y1="709.60" x2="386.00" y2="709.60" stroke="#000" stroke-width="1.5" />
<text x="379.60" y="713.94" font-size="12.4" text-anchor="end" fill="#000" >15</text>
<line x1="385.25" y1="873.40" x2="498.60" y2="873.40" stroke="#000" stroke-width="1.5" />
<line x1="414.40" y1="873.40" x2="414.40" y2="878.00" stroke="#000" stroke-width="1.5" />
<line x1="469.90" y1="873.40" x2="469.90" y2="878.00" stroke="#000" stroke-width="1.5" />
<text transform="translate(354.0,792.55) rotate(-90)" font-size="13.8" text-anchor="middle"><tspan font-style="italic">Adipoq</tspan> (fold change)</text>
<text x="394.7" y="893.60" font-size="12.4">ControlECIGF-1R<tspan font-size="9.30" dy="-4.71">KD</tspan></text>
<path d="M 401.3 873.4 L 401.3 863.5 L 428.3 863.5 L 428.3 873.4" fill="none" stroke="#000" stroke-width="1.7" />
<path d="M 457.0 873.4 L 457.0 819.7 L 483.3 819.7 L 483.3 873.4" fill="none" stroke="#000080" stroke-width="1.7" />
<circle cx="414.40" cy="852.60" r="1.6" fill="none" stroke="#111" stroke-width="0.9"/>
<circle cx="411.10" cy="858.10" r="1.6" fill="none" stroke="#111" stroke-width="0.9"/>
<circle cx="417.90" cy="856.90" r="1.6" fill="none" stroke="#111" stroke-width="0.9"/>
<circle cx="411.10" cy="866.10" r="1.6" fill="none" stroke="#111" stroke-width="0.9"/>
<circle cx="417.90" cy="868.30" r="1.6" fill="none" stroke="#111" stroke-width="0.9"/>
<circle cx="411.10" cy="871.70" r="1.6" fill="none" stroke="#111" stroke-width="0.9"/>
<circle cx="414.40" cy="863.00" r="1.6" fill="none" stroke="#111" stroke-width="0.9"/>
<circle cx="469.90" cy="720.60" r="1.6" fill="none" stroke="#000080" stroke-width="0.9"/>
<circle cx="469.90" cy="794.30" r="1.6" fill="none" stroke="#000080" stroke-width="0.9"/>
<circle cx="466.50" cy="808.50" r="1.6" fill="none" stroke="#000080" stroke-width="0.9"/>
<circle cx="473.50" cy="811.10" r="1.6" fill="none" stroke="#000080" stroke-width="0.9"/>
<circle cx="469.90" cy="826.00" r="1.6" fill="none" stroke="#000080" stroke-width="0.9"/>
<circle cx="469.90" cy="836.60" r="1.6" fill="none" stroke="#000080" stroke-width="0.9"/>
<circle cx="469.90" cy="848.60" r="1.6" fill="none" stroke="#000080" stroke-width="0.9"/>
<circle cx="466.50" cy="863.60" r="1.6" fill="none" stroke="#000080" stroke-width="0.9"/>
<circle cx="473.50" cy="861.50" r="1.6" fill="none" stroke="#000080" stroke-width="0.9"/>
<line x1="414.40" y1="860.30" x2="414.40" y2="865.00" stroke="#000" stroke-width="1.2" />
<line x1="407.40" y1="860.30" x2="421.40" y2="860.30" stroke="#000" stroke-width="1.2" />
<line x1="407.40" y1="865.00" x2="421.40" y2="865.00" stroke="#000" stroke-width="1.2" />
<line x1="470.00" y1="804.40" x2="470.00" y2="833.70" stroke="#000080" stroke-width="1.2" />
<line x1="463.20" y1="804.40" x2="476.80" y2="804.40" stroke="#000080" stroke-width="1.2" />
<line x1="463.20" y1="833.70" x2="476.80" y2="833.70" stroke="#000080" stroke-width="1.2" />
<path d="M 414.4 850.8 L 414.4 701.1 L 470.2 701.1 L 470.2 711.5" fill="none" stroke="#333" stroke-width="1.0" />
<line x1="442.00" y1="687.80" x2="442.00" y2="694.20" stroke="#000" stroke-width="1.5" stroke-linecap="butt"/>
<line x1="439.23" y1="689.40" x2="444.77" y2="692.60" stroke="#000" stroke-width="1.5" stroke-linecap="butt"/>
<line x1="439.23" y1="692.60" x2="444.77" y2="689.40" stroke="#000" stroke-width="1.5" stroke-linecap="butt"/>
<circle cx="442.00" cy="691.00" r="1.12" fill="#000"/>
<text x="516.80" y="669.20" font-size="15" font-weight="bold">M</text>
<line x1="544.60" y1="709.70" x2="544.60" y2="872.80" stroke="#000" stroke-width="1.6" />
<line x1="540.10" y1="872.00" x2="544.60" y2="872.00" stroke="#000" stroke-width="1.6" />
<text x="537.10" y="876.34" font-size="12.4" text-anchor="end" font-weight="bold" fill="#000" >0</text>
<line x1="540.10" y1="817.90" x2="544.60" y2="817.90" stroke="#000" stroke-width="1.6" />
<text x="537.10" y="822.24" font-size="12.4" text-anchor="end" font-weight="bold" fill="#000" >2</text>
<line x1="540.10" y1="763.80" x2="544.60" y2="763.80" stroke="#000" stroke-width="1.6" />
<text x="537.10" y="768.14" font-size="12.4" text-anchor="end" font-weight="bold" fill="#000" >4</text>
<line x1="540.10" y1="709.70" x2="544.60" y2="709.70" stroke="#000" stroke-width="1.6" />
<text x="537.10" y="714.04" font-size="12.4" text-anchor="end" font-weight="bold" fill="#000" >6</text>
<line x1="543.80" y1="872.00" x2="685.00" y2="872.00" stroke="#000" stroke-width="1.6" />
<line x1="585.40" y1="872.00" x2="585.40" y2="878.30" stroke="#000" stroke-width="1.6" />
<line x1="644.60" y1="872.00" x2="644.60" y2="878.30" stroke="#000" stroke-width="1.6" />
<text transform="translate(508.80,790.50) rotate(-90)" font-size="13.6" text-anchor="middle" fill="#000" >pS473 Akt/β-actin</text>
<text transform="translate(524.40,792.25) rotate(-90)" font-size="13.8" text-anchor="middle" fill="#000" >(fold change)</text>
<text x="585.60" y="891.04" font-size="12.4" text-anchor="middle" fill="#000" >Control</text>
<text x="645.0" y="891.00" font-size="12.4" text-anchor="middle">ECIGF-1R<tspan font-size="9.30" dy="-4.71">KD</tspan></text>
<path d="M 566.7 872 L 566.7 845.8 L 605.0 845.8 L 605.0 872" fill="none" stroke="#000" stroke-width="1.8" />
<path d="M 625.5 872 L 625.5 827.7 L 664.1 827.7 L 664.1 872" fill="none" stroke="#000080" stroke-width="1.8" />
<circle cx="585.40" cy="833.00" r="1.6" fill="none" stroke="#111" stroke-width="0.9"/>
<circle cx="585.40" cy="839.40" r="1.6" fill="none" stroke="#111" stroke-width="0.9"/>
<circle cx="579.00" cy="851.50" r="1.6" fill="none" stroke="#111" stroke-width="0.9"/>
<circle cx="585.40" cy="849.90" r="1.6" fill="none" stroke="#111" stroke-width="0.9"/>
<circle cx="592.10" cy="851.00" r="1.6" fill="none" stroke="#111" stroke-width="0.9"/>
<circle cx="644.60" cy="800.60" r="1.6" fill="none" stroke="#000080" stroke-width="0.9"/>
<circle cx="641.10" cy="811.80" r="1.6" fill="none" stroke="#000080" stroke-width="0.9"/>
<circle cx="647.80" cy="809.20" r="1.6" fill="none" stroke="#000080" stroke-width="0.9"/>
<circle cx="647.80" cy="813.70" r="1.6" fill="none" stroke="#000080" stroke-width="0.9"/>
<circle cx="641.10" cy="830.10" r="1.6" fill="none" stroke="#000080" stroke-width="0.9"/>
<circle cx="647.80" cy="833.30" r="1.6" fill="none" stroke="#000080" stroke-width="0.9"/>
<circle cx="644.60" cy="842.60" r="1.6" fill="none" stroke="#000080" stroke-width="0.9"/>
<circle cx="644.60" cy="847.80" r="1.6" fill="none" stroke="#000080" stroke-width="0.9"/>
<circle cx="644.60" cy="853.40" r="1.6" fill="none" stroke="#000080" stroke-width="0.9"/>
<circle cx="585.40" cy="846.20" r="1.6" fill="#111" stroke="#111" stroke-width="0.9"/>
<line x1="585.50" y1="842.30" x2="585.50" y2="848.30" stroke="#000" stroke-width="1.2" />
<line x1="575.70" y1="842.30" x2="595.30" y2="842.30" stroke="#000" stroke-width="1.2" />
<line x1="575.70" y1="848.30" x2="595.30" y2="848.30" stroke="#000" stroke-width="1.2" />
<line x1="644.40" y1="821.00" x2="644.40" y2="833.30" stroke="#000080" stroke-width="1.2" />
<line x1="634.80" y1="821.00" x2="654.00" y2="821.00" stroke="#000080" stroke-width="1.2" />
<line x1="634.80" y1="833.30" x2="654.00" y2="833.30" stroke="#000080" stroke-width="1.2" />
<path d="M 579.0 826.6 L 579.0 786.4 L 647.8 786.4 L 647.8 789.3" fill="none" stroke="#444" stroke-width="1.0" />
<line x1="613.00" y1="773.20" x2="613.00" y2="779.60" stroke="#000" stroke-width="1.5" stroke-linecap="butt"/>
<line x1="610.23" y1="774.80" x2="615.77" y2="778.00" stroke="#000" stroke-width="1.5" stroke-linecap="butt"/>
<line x1="610.23" y1="778.00" x2="615.77" y2="774.80" stroke="#000" stroke-width="1.5" stroke-linecap="butt"/>
<circle cx="613.00" cy="776.40" r="1.12" fill="#000"/>
<defs><filter id="bl" x="-20%" y="-80%" width="140%" height="260%"><feGaussianBlur stdDeviation="0.6"/></filter></defs>
<rect x="582.30" y="699.10" width="56.50" height="20.10" fill="#d4d4d4" stroke="#666" stroke-width="0.8" />
<rect x="582.30" y="721.40" width="56.50" height="19.70" fill="#e4e4e4" stroke="#666" stroke-width="0.8" />
<rect x="582.30" y="745.10" width="57.10" height="19.70" fill="#d8d8d8" stroke="#666" stroke-width="0.8" />
<g filter="url(#bl)">
<rect x="586.5" y="709.6" width="20" height="2.6" rx="1.3" fill="#8a8a8a"/>
<rect x="613.0" y="710.8" width="21" height="3.0" rx="1.5" fill="#5e5e5e"/>
<rect x="585.8" y="731.3" width="21" height="3.8" rx="1.9" fill="#1c1c1c"/>
<rect x="612.8" y="731.3" width="21.5" height="3.6" rx="1.8" fill="#222"/>
<rect x="584.8" y="750.8" width="23.5" height="3.5" rx="1.5" fill="#888"/>
<rect x="611.8" y="750.8" width="24.5" height="3.5" rx="1.5" fill="#888"/>
<rect x="584.8" y="752.4" width="23.5" height="4.6" rx="2.2" fill="#111"/>
<rect x="611.8" y="752.6" width="24.5" height="4.6" rx="2.2" fill="#141414"/>
</g>
<text x="581.60" y="710.81" font-size="4.6" text-anchor="end" fill="#333" >p473 AKT</text>
<text x="581.60" y="732.61" font-size="4.6" text-anchor="end" fill="#333" >AKT</text>
<text x="581.60" y="756.41" font-size="4.6" text-anchor="end" fill="#333" >β-actin</text>
<text x="645.80" y="713.25" font-size="9.0" text-anchor="start" fill="#111" >-56kDa</text>
<text x="645.80" y="734.25" font-size="9.0" text-anchor="start" fill="#111" >-56kDa</text>
<text x="645.80" y="757.05" font-size="9.0" text-anchor="start" fill="#111" >-42kDa</text>
</svg>
</body></html>
